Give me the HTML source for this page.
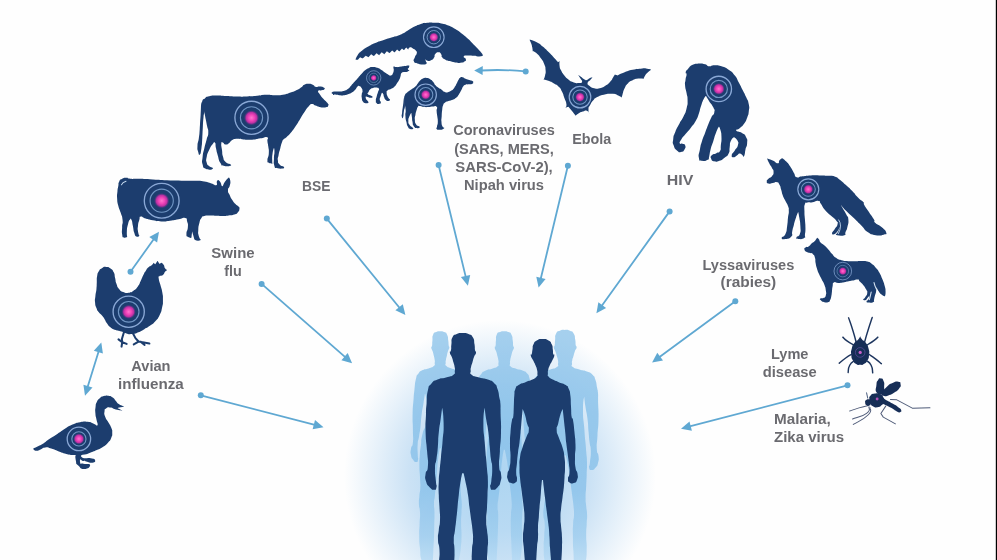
<!DOCTYPE html>
<html><head><meta charset="utf-8">
<style>
html,body{margin:0;padding:0;background:#fff;}
body{width:997px;height:560px;overflow:hidden;position:relative;}
svg{position:absolute;left:0;top:0;display:block;}
text{font-family:"Liberation Sans",sans-serif;font-weight:bold;font-size:14.5px;fill:#6b6b6f;}
</style></head><body>
<svg width="997" height="560" viewBox="0 0 997 560">
<defs>
<radialGradient id="glow" cx="500" cy="476" r="156" gradientUnits="userSpaceOnUse">
<stop offset="0" stop-color="#aed5f1"/>
<stop offset="0.35" stop-color="#b9daf3"/>
<stop offset="0.58" stop-color="#cbe2f5"/>
<stop offset="0.8" stop-color="#e6f1fa"/>
<stop offset="1" stop-color="#fefefe"/>
</radialGradient>
<filter id="soft" x="-5%" y="-5%" width="110%" height="110%"><feGaussianBlur stdDeviation="0.45"/></filter>
<radialGradient id="pk"><stop offset="0" stop-color="#ff74d0"/><stop offset="0.4" stop-color="#f043b8"/><stop offset="0.7" stop-color="#c431a6" stop-opacity="0.95"/><stop offset="1" stop-color="#5b2a86" stop-opacity="0"/></radialGradient><filter id="soft2" x="-5%" y="-5%" width="110%" height="110%"><feGaussianBlur stdDeviation="0.55"/></filter>
</defs>
<rect width="997" height="560" fill="#fefefe"/>
<circle cx="500" cy="476" r="156" fill="url(#glow)"/>
<rect x="995.8" y="0" width="1.2" height="560" fill="#000"/>
<g id="arrows" stroke="#5fa8d2" stroke-width="1.8" fill="#5fa8d2" stroke-linecap="round">
<line x1="87.3" y1="388.1" x2="99.0" y2="350.2"/>
<polygon stroke="none" points="101.3,342.5 102.9,353.5 93.8,350.7"/>
<polygon stroke="none" points="85.0,395.8 83.4,384.8 92.5,387.6"/>
<line x1="130.5" y1="271.8" x2="154.4" y2="238.2"/>
<polygon stroke="none" points="159.0,231.7 157.1,242.6 149.3,237.1"/>
<circle stroke="none" cx="130.5" cy="271.8" r="3.0"/>
<line x1="200.8" y1="395.3" x2="315.8" y2="425.2"/>
<polygon stroke="none" points="323.5,427.2 312.6,429.3 315.0,420.1"/>
<circle stroke="none" cx="200.8" cy="395.3" r="3.0"/>
<line x1="261.6" y1="283.9" x2="346.1" y2="357.9"/>
<polygon stroke="none" points="352.1,363.2 341.4,360.2 347.7,353.0"/>
<circle stroke="none" cx="261.6" cy="283.9" r="3.0"/>
<line x1="326.8" y1="218.6" x2="400.3" y2="308.8"/>
<polygon stroke="none" points="405.4,315.0 395.4,310.3 402.8,304.2"/>
<circle stroke="none" cx="326.8" cy="218.6" r="3.0"/>
<line x1="438.6" y1="165.0" x2="466.0" y2="277.9"/>
<polygon stroke="none" points="467.9,285.7 460.9,277.1 470.2,274.9"/>
<circle stroke="none" cx="438.6" cy="165.0" r="3.0"/>
<line x1="567.9" y1="165.7" x2="540.5" y2="279.7"/>
<polygon stroke="none" points="538.6,287.5 536.3,276.7 545.6,278.9"/>
<circle stroke="none" cx="567.9" cy="165.7" r="3.0"/>
<line x1="669.6" y1="211.4" x2="601.1" y2="306.7"/>
<polygon stroke="none" points="596.4,313.2 598.4,302.3 606.1,307.9"/>
<circle stroke="none" cx="669.6" cy="211.4" r="3.0"/>
<line x1="735.3" y1="301.2" x2="658.5" y2="357.8"/>
<polygon stroke="none" points="652.1,362.5 657.3,352.7 663.0,360.4"/>
<circle stroke="none" cx="735.3" cy="301.2" r="3.0"/>
<line x1="847.5" y1="385.3" x2="688.7" y2="426.7"/>
<polygon stroke="none" points="681.0,428.7 689.5,421.6 691.9,430.8"/>
<circle stroke="none" cx="847.5" cy="385.3" r="3.0"/>
<path d="M525.7,71.4 Q503.4,69.2 481.0,70.5" fill="none"/>
<polygon stroke="none" points="474.2,70.4 482.8,66.1 482.6,75.1"/>
<circle stroke="none" cx="525.7" cy="71.4" r="3.0"/>
</g>
<g id="people">
<defs><linearGradient id="bk" x1="0" y1="330" x2="0" y2="565" gradientUnits="userSpaceOnUse"><stop offset="0" stop-color="#96c8ec"/><stop offset="0.35" stop-color="#8ac2ea"/><stop offset="0.68" stop-color="#8cc3eb"/><stop offset="0.88" stop-color="#a0ceef"/><stop offset="1" stop-color="#badcf5"/></linearGradient></defs>
<g filter="url(#soft2)" opacity="0.84">
<path d="M440.0,331.3C442.7,331.3 441.8,330.9 444.2,332.1C446.5,333.2 445.8,331.9 447.1,334.8C448.5,337.7 447.8,337.1 448.3,340.7C448.8,344.2 448.3,343.0 448.7,345.4C449.0,347.8 449.6,345.8 449.3,347.7C449.1,349.7 448.8,348.6 448.0,351.3C447.1,354.0 447.5,353.1 446.9,355.8C446.2,358.5 446.4,357.1 446.0,359.4C445.6,361.8 445.5,360.7 445.7,362.9C445.8,365.1 444.4,364.2 446.4,366.0C448.3,367.8 447.8,367.0 451.6,368.4C455.3,369.7 454.0,368.5 457.5,370.1C460.9,371.7 459.6,370.5 461.9,373.1C464.2,375.8 463.1,374.1 464.5,378.1C465.9,382.2 465.2,381.4 466.1,385.3C466.9,389.3 466.5,385.6 467.0,390.0C467.5,394.5 467.0,390.6 467.5,398.6C468.1,406.7 468.2,403.9 468.5,414.3C468.9,424.7 468.5,420.6 468.5,430.0C468.5,439.3 468.0,436.2 468.6,442.5C469.1,448.7 469.6,444.6 470.2,448.7C470.7,452.9 470.8,451.4 470.2,455.0C469.6,458.7 470.1,457.4 468.5,459.7C466.9,462.1 467.1,462.1 465.3,462.1C463.6,462.1 463.8,462.1 463.3,459.7C462.8,457.4 463.5,460.2 463.7,455.0C463.9,449.8 464.2,450.3 463.9,444.0C463.5,437.8 463.4,442.0 462.6,436.2C461.7,430.5 462.3,434.1 461.4,426.8C460.5,419.5 461.1,422.1 459.9,414.3C458.7,406.5 459.0,410.2 457.8,403.3C456.6,396.5 456.3,393.6 456.3,393.6C456.3,393.6 455.6,397.0 456.0,406.5C456.5,416.0 456.6,412.7 457.6,422.1C458.7,431.5 458.2,426.8 459.1,434.7C460.1,442.5 459.7,438.8 460.4,445.6C461.2,452.4 461.0,448.0 461.4,455.0C461.7,462.0 461.6,459.2 461.5,466.5C461.4,473.8 461.4,470.0 461.1,476.9C460.8,483.9 460.6,481.1 460.6,487.4C460.6,493.6 460.7,490.1 461.1,495.7C461.5,501.3 461.7,498.5 461.8,504.1C461.9,509.6 461.7,506.0 461.5,512.4C461.2,518.8 461.1,515.5 461.1,523.3C461.2,531.1 461.7,527.4 461.5,535.8C461.4,544.1 461.6,540.0 460.8,548.3C460.0,556.7 459.8,553.9 459.1,560.8C458.3,567.8 458.0,564.2 458.6,569.2C459.3,574.2 463.3,572.8 461.1,575.9C459.0,578.9 456.6,578.1 452.1,578.4C447.6,578.7 447.6,576.7 447.6,576.7C447.6,576.7 448.0,573.9 448.0,565.9C447.9,557.8 447.8,562.0 447.4,552.5C447.0,543.0 447.1,546.6 446.8,537.5C446.5,528.3 446.5,533.3 446.4,524.9C446.4,516.6 446.3,519.4 446.6,512.4C446.9,505.5 447.2,509.6 447.3,504.1C447.4,498.5 447.3,501.3 446.9,495.7C446.5,490.1 446.8,493.6 446.1,487.4C445.4,481.1 445.6,483.9 444.9,476.9C444.1,470.0 444.6,472.7 443.8,466.5C443.1,460.2 443.6,464.2 442.6,458.1C441.6,452.1 440.8,448.3 440.8,448.3C440.8,448.3 439.8,448.3 439.8,448.3C439.8,448.3 439.1,452.1 438.3,458.1C437.5,464.2 438.0,460.2 437.4,466.5C436.9,472.7 437.2,470.0 436.6,476.9C436.0,483.9 436.3,481.1 435.7,487.4C435.1,493.6 435.4,490.1 434.9,495.7C434.3,501.3 434.1,498.5 434.0,504.1C433.9,509.6 434.4,505.5 434.5,512.4C434.6,519.4 434.5,516.6 434.3,524.9C434.1,533.3 434.3,528.3 434.0,537.5C433.6,546.6 433.7,543.0 433.3,552.5C432.9,562.0 432.9,557.8 432.8,565.9C432.7,573.9 433.1,576.7 433.1,576.7C433.1,576.7 433.1,578.7 428.6,578.4C424.1,578.1 420.4,578.9 419.6,575.9C418.8,572.8 425.6,574.2 426.3,569.2C427.0,564.2 423.8,567.8 421.7,560.8C419.6,553.9 420.8,556.7 420.0,548.3C419.1,540.0 419.3,544.1 419.2,535.8C419.1,527.4 419.4,531.1 419.6,523.3C419.9,515.5 420.2,518.8 420.0,512.4C419.7,506.0 419.1,509.6 418.9,504.1C418.8,498.5 419.0,501.3 419.4,495.7C419.9,490.1 420.1,493.6 420.3,487.4C420.5,481.1 420.2,483.9 420.0,476.9C419.7,470.0 419.5,473.8 419.4,466.5C419.4,459.2 419.3,462.0 419.8,455.0C420.3,448.0 420.0,452.4 420.9,445.6C421.7,438.8 420.5,442.5 422.3,434.7C424.1,426.8 424.7,431.5 426.2,422.1C427.8,412.7 427.4,416.0 427.0,406.5C426.6,397.0 425.0,393.6 425.0,393.6C425.0,393.6 424.6,396.5 423.5,403.3C422.4,410.2 422.7,406.5 421.7,414.3C420.7,422.1 421.3,419.5 420.5,426.8C419.6,434.1 420.0,430.5 419.1,436.2C418.2,442.0 418.1,437.8 417.7,444.0C417.3,450.3 417.7,449.8 417.8,455.0C417.9,460.2 418.6,457.4 418.0,459.7C417.5,462.1 417.9,462.1 416.2,462.1C414.6,462.1 414.8,462.1 413.1,459.7C411.3,457.4 411.7,458.7 411.0,455.0C410.3,451.4 410.4,452.9 411.0,448.7C411.6,444.6 412.2,448.7 412.9,442.5C413.5,436.2 413.0,439.3 412.9,430.0C412.9,420.6 412.4,424.7 412.6,414.3C412.9,403.9 413.0,406.7 413.6,398.6C414.2,390.6 413.7,396.6 414.4,390.0C415.2,383.5 414.6,384.5 415.9,379.1C417.2,373.6 416.0,376.7 418.3,373.7C420.6,370.7 419.3,371.9 422.8,370.1C426.2,368.3 425.0,369.7 428.6,368.4C432.3,367.0 431.8,367.8 433.8,366.0C435.8,364.2 434.5,365.1 434.7,362.9C435.0,360.7 434.9,361.8 434.6,359.4C434.3,357.1 434.5,358.5 433.8,355.8C433.2,353.1 433.5,354.0 432.6,351.3C431.8,348.6 431.5,349.7 431.3,347.7C431.1,345.8 431.7,347.8 432.1,345.4C432.4,343.0 432.0,344.2 432.4,340.7C432.7,337.1 431.9,337.7 433.1,334.8C434.4,331.9 433.8,333.2 436.1,332.1C438.4,330.9 437.3,331.3 440.0,331.3Z" fill="url(#bk)"/>
<path d="M504.0,331.3C506.9,331.3 505.9,330.9 508.4,332.1C510.9,333.2 510.1,331.9 511.5,334.8C513.0,337.8 512.2,337.2 512.8,340.8C513.3,344.3 512.8,343.2 513.1,345.6C513.5,348.0 514.1,345.9 513.9,347.9C513.6,349.9 513.3,348.8 512.4,351.6C511.5,354.3 512.0,353.4 511.2,356.1C510.5,358.9 510.7,357.4 510.3,359.8C509.9,362.2 509.9,361.1 510.0,363.3C510.1,365.6 508.7,364.6 510.7,366.5C512.8,368.3 512.3,367.4 516.2,368.8C520.1,370.2 518.8,369.0 522.5,370.6C526.1,372.2 524.8,370.9 527.2,373.6C529.5,376.3 528.4,374.6 529.6,378.7C530.9,382.8 530.3,382.0 531.0,386.0C531.6,390.0 531.4,386.2 531.7,390.7C532.0,395.2 531.7,391.3 531.8,399.4C532.0,407.6 532.3,404.7 532.1,415.3C531.9,425.9 531.8,421.6 531.3,431.1C530.8,440.6 530.5,437.5 530.8,443.8C531.0,450.1 531.8,445.9 532.1,450.1C532.5,454.4 532.6,452.8 531.8,456.5C531.1,460.2 531.6,458.9 529.8,461.2C528.0,463.6 528.2,463.6 526.4,463.6C524.5,463.6 524.8,463.6 524.3,461.2C523.9,458.9 524.5,461.8 525.0,456.5C525.5,451.2 525.8,451.7 525.7,445.4C525.6,439.1 525.3,443.3 524.7,437.5C524.1,431.7 524.5,435.4 523.9,428.0C523.3,420.6 523.8,423.2 523.0,415.3C522.1,407.4 522.2,411.2 521.3,404.2C520.4,397.2 520.2,394.4 520.2,394.4C520.2,394.4 519.3,397.8 519.3,407.4C519.3,417.0 519.6,413.7 520.2,423.2C520.9,432.7 520.6,428.0 521.2,435.9C521.8,443.8 521.5,440.1 522.0,447.0C522.5,453.8 522.5,449.4 522.5,456.5C522.6,463.5 522.5,460.7 522.3,468.1C522.1,475.5 522.2,471.6 521.9,478.7C521.6,485.7 521.4,482.9 521.4,489.2C521.4,495.6 521.5,492.0 521.9,497.7C522.3,503.3 522.5,500.5 522.6,506.1C522.8,511.8 522.5,508.1 522.3,514.6C522.0,521.1 521.9,517.7 521.9,525.6C521.9,533.5 522.5,529.8 522.3,538.2C522.2,546.7 522.4,542.5 521.5,550.9C520.7,559.4 520.5,556.5 519.7,563.6C519.0,570.6 518.5,567.0 519.3,572.0C520.0,577.1 522.7,575.7 521.9,578.8C521.1,581.9 520.1,581.1 516.8,581.3C513.5,581.6 512.0,579.6 512.0,579.6C512.0,579.6 512.5,576.8 512.4,568.7C512.3,560.5 512.2,564.7 511.8,555.1C511.4,545.6 511.5,549.2 511.2,539.9C510.8,530.6 510.9,535.7 510.8,527.3C510.7,518.8 510.7,521.6 511.0,514.6C511.2,507.5 511.6,511.8 511.7,506.1C511.8,500.5 511.7,503.3 511.3,497.7C510.9,492.0 511.1,495.6 510.4,489.2C509.7,482.9 509.9,485.7 509.1,478.7C508.3,471.6 508.8,474.4 508.0,468.1C507.2,461.8 507.8,465.8 506.8,459.7C505.7,453.5 504.8,449.7 504.8,449.7C504.8,449.7 503.8,449.7 503.8,449.7C503.8,449.7 503.0,453.5 502.2,459.7C501.4,465.8 501.9,461.8 501.3,468.1C500.7,474.4 501.0,471.6 500.4,478.7C499.8,485.7 500.1,482.9 499.5,489.2C498.8,495.6 499.2,492.0 498.5,497.7C497.9,503.3 497.8,500.5 497.6,506.1C497.5,511.8 498.1,507.5 498.2,514.6C498.3,521.6 498.2,518.8 498.0,527.3C497.8,535.7 497.9,530.6 497.6,539.9C497.3,549.2 497.4,545.6 496.9,555.1C496.5,564.7 496.4,560.5 496.4,568.7C496.3,576.8 496.7,579.6 496.7,579.6C496.7,579.6 495.3,581.6 492.0,581.3C488.7,581.1 487.7,581.9 486.9,578.8C486.0,575.7 488.8,577.1 489.5,572.0C490.2,567.0 489.8,570.6 489.1,563.6C488.3,556.5 488.1,559.4 487.2,550.9C486.4,542.5 486.5,546.7 486.4,538.2C486.3,529.8 486.6,533.5 486.9,525.6C487.1,517.7 487.5,521.1 487.2,514.6C487.0,508.1 486.3,511.8 486.1,506.1C485.9,500.5 486.2,503.3 486.7,497.7C487.2,492.0 487.4,495.6 487.6,489.2C487.8,482.9 487.5,485.7 487.2,478.7C486.9,471.6 486.9,475.5 486.7,468.1C486.5,460.7 486.5,463.5 486.7,456.5C486.9,449.4 486.8,453.8 487.4,447.0C487.9,440.1 487.6,443.8 488.3,435.9C489.0,428.0 488.8,432.7 489.4,423.2C490.1,413.7 490.3,417.0 490.2,407.4C490.1,397.8 489.1,394.4 489.1,394.4C489.1,394.4 488.9,397.2 488.0,404.2C487.2,411.2 487.4,407.4 486.7,415.3C486.0,423.2 486.5,420.6 486.0,428.0C485.4,435.4 485.7,431.7 485.0,437.5C484.4,443.3 484.1,439.1 483.9,445.4C483.8,451.7 484.3,451.2 484.6,456.5C485.0,461.8 485.5,458.9 485.0,461.2C484.6,463.6 485.0,463.6 483.3,463.6C481.5,463.6 481.8,463.6 479.8,461.2C477.9,458.9 478.3,460.2 477.4,456.5C476.5,452.8 476.6,454.4 477.1,450.1C477.6,445.9 478.4,450.1 478.7,443.8C479.1,437.5 478.7,440.6 478.2,431.1C477.6,421.6 477.4,425.9 477.1,415.3C476.8,404.7 477.1,407.6 477.4,399.4C477.6,391.3 477.3,397.3 477.8,390.7C478.2,384.1 477.7,385.1 478.8,379.6C479.9,374.1 478.8,377.2 481.1,374.2C483.4,371.2 482.1,372.4 485.8,370.6C489.4,368.8 488.1,370.2 492.0,368.8C495.9,367.4 495.3,368.3 497.4,366.5C499.6,364.6 498.1,365.6 498.4,363.3C498.7,361.1 498.6,362.2 498.3,359.8C497.9,357.4 498.1,358.9 497.4,356.1C496.8,353.4 497.1,354.3 496.2,351.6C495.3,348.8 495.0,349.9 494.8,347.9C494.6,345.9 495.3,348.0 495.6,345.6C496.0,343.2 495.5,344.3 495.9,340.8C496.3,337.2 495.4,337.8 496.7,334.8C498.0,331.9 497.4,333.2 499.9,332.1C502.3,330.9 501.2,331.3 504.0,331.3Z" fill="url(#bk)"/>
<path d="M564.8,329.9C568.2,329.9 567.0,329.5 570.0,330.7C573.0,332.0 572.0,330.6 573.8,333.7C575.5,336.7 574.6,336.1 575.3,339.9C575.9,343.7 575.3,342.5 575.7,345.0C576.2,347.6 576.9,345.4 576.6,347.5C576.3,349.6 575.9,348.5 574.8,351.4C573.8,354.3 574.3,353.3 573.4,356.2C572.6,359.1 572.8,357.5 572.3,360.1C571.8,362.6 571.8,361.5 572.0,363.8C572.1,366.2 570.4,365.2 572.8,367.1C575.3,369.1 574.7,368.2 579.4,369.6C584.1,371.1 582.5,369.8 586.9,371.5C591.3,373.2 589.7,371.9 592.5,374.7C595.4,377.6 594.0,375.8 595.5,380.1C597.0,384.5 596.2,383.6 597.1,387.8C597.9,392.1 597.6,388.1 598.0,392.9C598.3,397.6 598.0,393.4 598.1,402.1C598.3,410.8 598.7,407.7 598.5,418.9C598.3,430.1 598.0,425.6 597.5,435.6C596.9,445.7 596.5,442.4 596.8,449.1C597.2,455.8 598.0,451.3 598.5,455.8C598.9,460.3 599.1,458.6 598.1,462.5C597.2,466.4 597.9,465.0 595.7,467.5C593.5,470.0 593.8,470.0 591.6,470.0C589.4,470.0 589.7,470.0 589.1,467.5C588.6,465.0 589.4,468.1 589.9,462.5C590.5,456.9 590.9,457.5 590.8,450.7C590.6,444.0 590.3,448.5 589.6,442.4C588.9,436.2 589.3,440.1 588.6,432.3C587.9,424.5 588.5,427.3 587.5,418.9C586.4,410.5 586.6,414.5 585.5,407.1C584.4,399.7 584.2,396.7 584.2,396.7C584.2,396.7 583.0,400.3 583.0,410.5C583.0,420.7 583.4,417.2 584.2,427.3C585.0,437.3 584.6,432.3 585.3,440.7C586.1,449.1 585.8,445.2 586.3,452.4C586.9,459.7 586.9,455.0 587.0,462.5C587.1,470.0 586.9,467.0 586.7,474.8C586.4,482.6 586.6,478.5 586.2,486.0C585.9,493.4 585.6,490.5 585.6,497.2C585.6,503.9 585.7,500.2 586.2,506.1C586.7,512.1 586.9,509.1 587.1,515.1C587.2,521.0 586.9,517.2 586.7,524.0C586.4,530.9 586.2,527.3 586.2,535.7C586.2,544.0 586.9,540.1 586.7,549.1C586.6,558.0 586.8,553.6 585.8,562.5C584.7,571.5 584.5,568.5 583.6,575.9C582.7,583.4 582.2,579.5 583.1,584.9C583.9,590.3 587.2,588.8 586.2,592.0C585.2,595.3 584.0,594.4 580.1,594.7C576.2,595.0 574.4,592.9 574.4,592.9C574.4,592.9 574.9,590.0 574.8,581.3C574.8,572.7 574.6,577.1 574.1,567.0C573.6,556.8 573.8,560.7 573.4,550.9C572.9,541.0 573.0,546.4 572.9,537.5C572.8,528.5 572.7,531.5 573.1,524.0C573.4,516.6 573.8,521.0 574.0,515.1C574.1,509.1 574.0,512.1 573.5,506.1C573.0,500.2 573.3,503.9 572.4,497.2C571.6,490.5 571.9,493.4 570.9,486.0C570.0,478.5 570.5,481.5 569.6,474.8C568.6,468.1 569.3,472.4 568.1,465.9C566.8,459.3 565.7,455.3 565.7,455.3C565.7,455.3 564.5,455.3 564.5,455.3C564.5,455.3 563.6,459.3 562.6,465.9C561.6,472.4 562.2,468.1 561.5,474.8C560.8,481.5 561.1,478.5 560.4,486.0C559.7,493.4 560.0,490.5 559.3,497.2C558.6,503.9 558.9,500.2 558.2,506.1C557.5,512.1 557.3,509.1 557.1,515.1C557.0,521.0 557.6,516.6 557.8,524.0C557.9,531.5 557.8,528.5 557.5,537.5C557.3,546.4 557.5,541.0 557.1,550.9C556.7,560.7 556.8,556.8 556.3,567.0C555.8,577.1 555.7,572.7 555.6,581.3C555.5,590.0 556.0,592.9 556.0,592.9C556.0,592.9 554.3,595.0 550.3,594.7C546.4,594.4 545.2,595.3 544.2,592.0C543.2,588.8 546.5,590.3 547.4,584.9C548.2,579.5 547.7,583.4 546.8,575.9C545.9,568.5 545.7,571.5 544.7,562.5C543.6,553.6 543.8,558.0 543.7,549.1C543.5,540.1 543.9,544.0 544.2,535.7C544.5,527.3 544.9,530.9 544.7,524.0C544.4,517.2 543.6,521.0 543.3,515.1C543.1,509.1 543.4,512.1 544.0,506.1C544.6,500.2 544.9,503.9 545.1,497.2C545.3,490.5 545.0,493.4 544.7,486.0C544.3,478.5 544.2,482.6 544.0,474.8C543.8,467.0 543.7,470.0 544.0,462.5C544.3,455.0 544.2,459.7 544.8,452.4C545.5,445.2 545.1,449.1 546.0,440.7C546.8,432.3 546.5,437.3 547.3,427.3C548.0,417.2 548.4,420.7 548.3,410.5C548.2,400.3 547.0,396.7 547.0,396.7C547.0,396.7 546.6,399.7 545.6,407.1C544.7,414.5 544.8,410.5 544.0,418.9C543.2,427.3 543.8,424.5 543.2,432.3C542.5,440.1 542.9,436.2 542.0,442.4C541.2,448.5 540.9,444.0 540.7,450.7C540.6,457.5 541.1,456.9 541.5,462.5C542.0,468.1 542.6,465.0 542.0,467.5C541.5,470.0 542.0,470.0 539.9,470.0C537.8,470.0 538.1,470.0 535.8,467.5C533.4,465.0 533.9,466.4 532.8,462.5C531.8,458.6 532.0,460.3 532.5,455.8C533.1,451.3 534.0,455.8 534.5,449.1C534.9,442.4 534.5,445.7 533.8,435.6C533.2,425.6 532.8,430.1 532.5,418.9C532.2,407.7 532.6,410.8 532.8,402.1C533.1,393.4 532.8,399.8 533.3,392.9C533.9,385.9 533.2,386.9 534.5,381.1C535.8,375.3 534.5,378.6 537.3,375.4C540.1,372.2 538.6,373.4 542.9,371.5C547.3,369.6 545.7,371.1 550.3,369.6C555.0,368.2 554.3,369.1 556.9,367.1C559.5,365.2 557.7,366.2 558.0,363.8C558.4,361.5 558.2,362.6 557.9,360.1C557.5,357.5 557.7,359.1 556.9,356.2C556.1,353.3 556.5,354.3 555.4,351.4C554.4,348.5 554.0,349.6 553.8,347.5C553.5,345.4 554.3,347.6 554.7,345.0C555.2,342.5 554.6,343.7 555.1,339.9C555.5,336.1 554.5,336.7 556.0,333.7C557.6,330.6 556.9,332.0 559.8,330.7C562.7,329.5 561.4,329.9 564.8,329.9Z" fill="url(#bk)"/>
</g>
<g fill="#1b3d6e" filter="url(#soft)"><path d="M462.5,333.1C466.4,333.1 465.1,332.6 468.5,334.0C471.9,335.4 470.8,333.9 472.8,337.3C474.8,340.7 473.8,340.1 474.5,344.3C475.2,348.5 474.5,347.2 475.0,350.0C475.5,352.8 476.3,350.4 476.0,352.8C475.7,355.2 475.2,353.9 474.0,357.1C472.8,360.3 473.4,359.3 472.4,362.5C471.4,365.7 471.7,364.0 471.1,366.8C470.5,369.6 470.5,368.4 470.7,371.0C470.9,373.6 468.9,372.5 471.7,374.7C474.5,376.9 473.8,375.9 479.2,377.5C484.6,379.1 482.8,377.7 487.8,379.6C492.8,381.5 490.9,380.0 494.2,383.2C497.5,386.4 495.9,384.3 497.6,389.2C499.3,394.1 498.5,393.1 499.4,397.8C500.3,402.5 500.0,398.1 500.4,403.4C500.8,408.8 500.4,404.1 500.6,413.8C500.8,423.4 501.3,420.0 501.0,432.5C500.8,445.0 500.5,440.0 499.9,451.3C499.3,462.5 498.8,458.8 499.1,466.3C499.5,473.8 500.5,468.8 501.0,473.8C501.5,478.8 501.7,476.9 500.6,481.3C499.6,485.6 500.3,484.1 497.8,486.9C495.3,489.7 495.6,489.7 493.1,489.7C490.6,489.7 490.9,489.7 490.3,486.9C489.7,484.1 490.6,487.5 491.3,481.3C491.9,475.0 492.3,475.6 492.2,468.1C492.1,460.6 491.7,465.6 490.9,458.8C490.1,451.9 490.6,456.3 489.8,447.5C488.9,438.8 489.6,441.9 488.4,432.5C487.3,423.1 487.4,427.6 486.2,419.4C484.9,411.1 484.7,407.8 484.7,407.8C484.7,407.8 483.4,411.8 483.4,423.1C483.4,434.5 483.8,430.6 484.7,441.9C485.6,453.1 485.2,447.5 486.0,456.9C486.8,466.3 486.5,461.9 487.1,470.0C487.8,478.1 487.8,472.9 487.9,481.3C488.0,489.6 487.8,486.3 487.5,495.0C487.2,503.7 487.4,499.2 487.0,507.5C486.6,515.8 486.2,512.5 486.2,520.0C486.2,527.5 486.4,523.3 487.0,530.0C487.6,536.7 487.8,533.3 488.0,540.0C488.2,546.7 487.8,542.3 487.5,550.0C487.2,557.7 487.0,553.7 487.0,563.0C487.0,572.3 487.8,568.0 487.6,578.0C487.4,588.0 487.7,583.0 486.5,593.0C485.3,603.0 485.0,599.7 484.0,608.0C483.0,616.3 482.4,612.0 483.4,618.0C484.4,624.0 488.1,622.3 487.0,626.0C485.9,629.7 484.5,628.7 480.0,629.0C475.5,629.3 473.5,627.0 473.5,627.0C473.5,627.0 474.1,623.7 474.0,614.0C473.9,604.3 473.8,609.3 473.2,598.0C472.6,586.7 472.8,591.0 472.3,580.0C471.8,569.0 471.9,575.0 471.8,565.0C471.7,555.0 471.6,558.3 472.0,550.0C472.4,541.7 472.8,546.7 473.0,540.0C473.2,533.3 473.1,536.7 472.5,530.0C471.9,523.3 472.2,527.5 471.2,520.0C470.2,512.5 470.6,515.8 469.5,507.5C468.4,499.2 469.1,502.5 468.0,495.0C466.9,487.5 467.7,492.3 466.2,485.0C464.8,477.7 463.6,473.2 463.6,473.2C463.6,473.2 462.2,473.2 462.2,473.2C462.2,473.2 461.1,477.7 460.0,485.0C458.9,492.3 459.6,487.5 458.8,495.0C457.9,502.5 458.3,499.2 457.5,507.5C456.7,515.8 457.1,512.5 456.2,520.0C455.4,527.5 455.8,523.3 455.0,530.0C454.2,536.7 453.9,533.3 453.8,540.0C453.6,546.7 454.4,541.7 454.5,550.0C454.6,558.3 454.5,555.0 454.2,565.0C453.9,575.0 454.2,569.0 453.7,580.0C453.2,591.0 453.4,586.7 452.8,598.0C452.2,609.3 452.1,604.3 452.0,614.0C451.9,623.7 452.5,627.0 452.5,627.0C452.5,627.0 450.5,629.3 446.0,629.0C441.5,628.7 440.1,629.7 439.0,626.0C437.9,622.3 441.6,624.0 442.6,618.0C443.6,612.0 443.0,616.3 442.0,608.0C441.0,599.7 440.7,603.0 439.5,593.0C438.3,583.0 438.6,588.0 438.4,578.0C438.2,568.0 438.6,572.3 439.0,563.0C439.4,553.7 439.8,557.7 439.5,550.0C439.2,542.3 438.2,546.7 438.0,540.0C437.8,533.3 438.1,536.7 438.8,530.0C439.4,523.3 439.8,527.5 440.0,520.0C440.2,512.5 439.9,515.8 439.5,507.5C439.1,499.2 439.0,503.7 438.8,495.0C438.5,486.3 438.4,489.6 438.8,481.3C439.1,472.9 438.9,478.1 439.7,470.0C440.4,461.9 440.1,466.3 441.0,456.9C441.9,447.5 441.6,453.1 442.5,441.9C443.4,430.6 443.8,434.5 443.6,423.1C443.5,411.8 442.1,407.8 442.1,407.8C442.1,407.8 441.8,411.1 440.6,419.4C439.5,427.6 439.7,423.1 438.8,432.5C437.8,441.9 438.6,438.8 437.8,447.5C437.1,456.3 437.4,451.9 436.5,458.8C435.6,465.6 435.2,460.6 435.0,468.1C434.8,475.6 435.4,475.0 435.9,481.3C436.4,487.5 437.1,484.1 436.5,486.9C435.9,489.7 436.4,489.7 434.1,489.7C431.7,489.7 432.1,489.7 429.4,486.9C426.7,484.1 427.3,485.6 426.0,481.3C424.8,476.9 425.0,478.8 425.6,473.8C426.3,468.8 427.4,473.8 427.9,466.3C428.4,458.8 427.9,462.5 427.1,451.3C426.4,440.0 426.0,445.0 425.6,432.5C425.3,420.0 425.7,423.4 426.0,413.8C426.3,404.1 425.9,411.3 426.6,403.4C427.2,395.6 426.4,396.8 427.9,390.3C429.4,383.8 427.9,387.5 431.1,383.9C434.3,380.3 432.5,381.7 437.5,379.6C442.5,377.5 440.7,379.1 446.0,377.5C451.3,375.9 450.6,376.9 453.5,374.7C456.4,372.5 454.4,373.6 454.8,371.0C455.2,368.4 455.0,369.6 454.6,366.8C454.2,364.0 454.4,365.7 453.5,362.5C452.6,359.3 453.0,360.3 451.8,357.1C450.6,353.9 450.2,355.2 449.9,352.8C449.6,350.4 450.5,352.8 451.0,350.0C451.5,347.2 450.9,348.5 451.4,344.3C451.9,340.1 450.7,340.7 452.5,337.3C454.3,333.9 453.5,335.4 456.8,334.0C460.1,332.6 458.6,333.1 462.5,333.1Z"/><path d="M542.5,338.9C546.5,338.9 545.5,338.6 548.5,340.4C551.6,342.2 550.3,341.2 551.7,344.3C553.2,347.3 552.3,346.4 552.8,349.6C553.3,352.8 552.7,352.0 553.2,353.9C553.7,355.8 554.6,353.3 554.3,355.4C554.0,357.5 554.0,356.9 552.4,360.3C550.8,363.8 551.0,362.6 549.6,365.7C548.2,368.8 548.9,367.0 548.3,369.5C547.7,372.1 547.8,371.0 547.9,373.4C548.0,375.7 546.9,374.5 548.5,376.6C550.2,378.7 549.2,377.7 552.8,379.6C556.4,381.5 555.0,380.6 559.2,382.4C563.5,384.2 562.5,382.7 565.7,385.0C568.9,387.2 567.3,385.7 568.9,389.2C570.4,392.8 569.7,390.0 570.4,395.7C571.1,401.4 570.6,399.2 571.0,406.4C571.4,413.5 571.0,412.5 571.7,417.1C572.3,421.6 572.1,414.9 573.0,420.0C573.9,425.1 573.7,424.2 574.5,432.5C575.3,440.8 575.3,436.7 575.5,445.0C575.7,453.3 575.0,450.0 575.0,457.5C575.0,465.0 574.7,462.1 575.5,467.5C576.3,472.9 577.0,469.6 577.5,473.8C578.0,477.9 578.2,476.9 577.0,480.0C575.8,483.1 576.2,482.2 573.8,483.0C571.2,483.8 571.4,483.9 569.5,482.5C567.6,481.1 568.0,482.1 568.0,478.8C568.0,475.4 569.2,477.9 569.5,472.5C569.8,467.1 569.4,469.2 568.8,462.5C568.1,455.8 568.3,459.2 567.5,452.5C566.7,445.8 567.1,450.0 566.2,442.5C565.4,435.0 566.2,441.2 565.0,430.0C563.8,418.8 562.7,408.9 562.7,408.9C562.7,408.9 561.8,410.1 560.3,414.9C558.8,419.8 559.4,418.5 558.2,423.5C557.0,428.5 556.5,425.3 556.7,429.9C556.9,434.6 556.8,431.6 558.8,437.5C560.7,443.4 560.6,440.8 562.5,447.5C564.4,454.2 563.7,450.8 564.5,457.5C565.3,464.2 565.0,460.8 565.0,467.5C565.0,474.2 564.9,470.8 564.5,477.5C564.1,484.2 564.4,480.8 563.8,487.5C563.1,494.2 563.3,490.8 562.5,497.5C561.7,504.2 561.9,500.8 561.2,507.5C560.6,514.2 560.5,510.8 560.5,517.5C560.5,524.2 560.8,520.8 561.2,527.5C561.8,534.2 561.8,530.8 562.0,537.5C562.2,544.2 562.2,539.3 562.0,547.5C561.8,555.7 561.2,562.0 561.2,562.0C561.2,562.0 551.2,562.0 551.2,562.0C551.2,562.0 550.6,555.7 550.0,547.5C549.4,539.3 549.9,544.2 549.5,537.5C549.1,530.8 549.4,534.2 548.8,527.5C548.1,520.8 548.3,524.2 547.5,517.5C546.7,510.8 547.1,514.2 546.2,507.5C545.4,500.8 545.8,504.2 545.0,497.5C544.2,490.8 544.4,493.3 543.8,487.5C543.1,481.7 543.0,480.0 543.0,480.0C543.0,480.0 542.0,480.0 542.0,480.0C542.0,480.0 541.8,481.7 541.2,487.5C540.8,493.3 541.1,490.8 540.5,497.5C539.9,504.2 540.1,500.8 539.5,507.5C538.9,514.2 539.2,510.8 538.8,517.5C538.2,524.2 538.2,520.8 538.0,527.5C537.8,534.2 538.3,530.8 538.0,537.5C537.7,544.2 537.6,539.3 537.0,547.5C536.4,555.7 536.2,562.0 536.2,562.0C536.2,562.0 525.0,562.0 525.0,562.0C525.0,562.0 524.4,555.7 523.8,547.5C523.1,539.3 523.0,544.2 523.0,537.5C523.0,530.8 523.2,534.2 523.8,527.5C524.2,520.8 524.5,524.2 524.5,517.5C524.5,510.8 524.4,514.2 523.8,507.5C523.1,500.8 523.3,504.2 522.5,497.5C521.7,490.8 522.1,494.2 521.2,487.5C520.4,480.8 520.6,484.2 520.0,477.5C519.4,470.8 519.5,474.2 519.5,467.5C519.5,460.8 519.0,464.2 520.0,457.5C521.0,450.8 520.4,454.2 522.5,447.5C524.6,440.8 524.1,443.4 526.2,437.5C528.4,431.6 528.5,434.6 528.8,429.9C529.1,425.3 528.4,428.5 527.1,423.5C525.8,418.5 526.5,419.8 525.0,414.9C523.5,410.1 522.6,408.9 522.6,408.9C522.6,408.9 522.0,417.1 521.2,425.0C520.5,432.9 521.1,426.7 520.5,432.5C519.9,438.3 520.3,435.8 519.5,442.5C518.7,449.2 518.8,445.8 518.0,452.5C517.2,459.2 517.6,455.8 517.0,462.5C516.4,469.2 516.2,467.1 516.2,472.5C516.2,477.9 517.2,475.4 517.0,478.8C516.8,482.1 517.4,481.1 515.5,482.5C513.6,483.9 513.8,483.8 511.2,483.0C508.8,482.2 509.2,483.1 508.0,480.0C506.8,476.9 507.0,477.9 507.5,473.8C508.0,469.6 508.5,472.9 509.5,467.5C510.5,462.1 510.3,465.0 510.5,457.5C510.7,450.0 510.0,453.3 510.0,445.0C510.0,436.7 509.8,440.8 510.5,432.5C511.2,424.2 511.1,425.1 512.0,420.0C512.9,414.9 512.6,421.6 513.2,417.1C513.8,412.5 513.5,413.5 513.8,406.4C514.2,399.2 513.8,401.4 514.3,395.7C514.8,390.0 513.9,392.8 515.3,389.2C516.8,385.7 515.3,387.2 518.6,385.0C521.8,382.7 520.3,384.2 525.0,382.4C529.6,380.6 528.5,381.5 532.5,379.6C536.4,377.7 535.1,378.7 536.8,376.6C538.4,374.5 537.3,375.7 537.4,373.4C537.5,371.0 537.5,372.1 537.0,369.5C536.4,367.0 537.0,368.8 535.7,365.7C534.4,362.6 534.8,363.8 533.1,360.3C531.5,356.9 531.2,357.5 530.8,355.4C530.3,353.3 531.3,355.8 531.8,353.9C532.4,352.0 531.9,352.8 532.5,349.6C533.0,346.4 532.1,347.3 533.5,344.3C535.0,341.2 533.8,342.2 536.8,340.4C539.8,338.6 538.6,338.9 542.5,338.9Z"/></g>
</g>
<g id="animals" fill="#1b3d6e" filter="url(#soft)">
<g transform="translate(30,390) scale(0.15175)">
<path d="M22.0,385.0C22.0,385.0 29.0,382.0 50.0,372.0C71.0,362.0 58.3,371.7 85.0,355.0C111.7,338.3 98.3,343.7 130.0,322.0C161.7,300.3 146.7,312.0 180.0,290.0C213.3,268.0 196.7,276.7 230.0,256.0C263.3,235.3 246.7,242.7 280.0,228.0C313.3,213.3 296.7,218.0 330.0,212.0C363.3,206.0 350.0,206.7 380.0,210.0C410.0,213.3 398.7,214.7 420.0,222.0C441.3,229.3 438.0,241.0 444.0,232.0C450.0,223.0 442.3,220.7 438.0,195.0C433.7,169.3 433.0,182.7 431.0,155.0C429.0,127.3 428.7,137.7 432.0,112.0C435.3,86.3 431.7,97.3 441.0,78.0C450.3,58.7 444.7,66.7 460.0,54.0C475.3,41.3 468.0,45.3 487.0,40.0C506.0,34.7 497.7,34.7 517.0,38.0C536.3,41.3 528.7,38.7 545.0,50.0C561.3,61.3 552.7,58.0 566.0,72.0C579.3,86.0 566.3,80.0 585.0,92.0C603.7,104.0 622.0,108.0 622.0,108.0C622.0,108.0 613.3,110.3 598.0,114.0C582.7,117.7 576.0,119.0 576.0,119.0C576.0,119.0 608.0,136.0 608.0,136.0C608.0,136.0 591.0,134.7 565.0,128.0C539.0,121.3 550.7,118.7 530.0,116.0C509.3,113.3 516.0,111.3 503.0,120.0C490.0,128.7 493.3,122.7 491.0,142.0C488.7,161.3 487.7,154.7 496.0,178.0C504.3,201.3 503.0,189.0 516.0,212.0C529.0,235.0 526.3,223.7 535.0,247.0C543.7,270.3 542.0,259.0 542.0,282.0C542.0,305.0 544.0,294.7 535.0,316.0C526.0,337.3 533.3,326.0 515.0,346.0C496.7,366.0 505.0,359.3 480.0,376.0C455.0,392.7 466.7,384.0 440.0,396.0C413.3,408.0 426.7,402.3 400.0,412.0C373.3,421.7 393.3,419.3 360.0,425.0C326.7,430.7 340.0,430.3 300.0,429.0C260.0,427.7 276.7,429.0 240.0,421.0C203.3,413.0 223.3,416.7 190.0,405.0C156.7,393.3 170.0,394.7 140.0,386.0C110.0,377.3 123.3,377.0 100.0,379.0C76.7,381.0 88.3,385.0 70.0,392.0C51.7,399.0 60.0,399.7 45.0,400.0C30.0,400.3 32.7,398.0 25.0,393.0C17.3,388.0 22.0,385.0 22.0,385.0Z"/>
<path d="M306.0,420.0C295.0,436.7 299.0,444.0 303.0,470.0C307.0,496.0 299.7,481.0 318.0,498.0C336.3,515.0 332.0,522.3 358.0,521.0C384.0,519.7 398.0,505.7 396.0,494.0C394.0,482.3 374.0,492.0 352.0,486.0C330.0,480.0 335.3,498.0 330.0,476.0C324.7,454.0 344.0,438.7 336.0,420.0C328.0,401.3 317.0,403.3 306.0,420.0Z"/>
<path d="M338.0,420.0C343.3,422.0 325.3,436.0 346.0,446.0C366.7,456.0 372.7,444.7 400.0,450.0C427.3,455.3 424.0,452.3 428.0,462.0C432.0,471.7 431.3,476.0 412.0,479.0C392.7,482.0 394.7,476.7 370.0,471.0C345.3,465.3 351.3,472.3 338.0,462.0C324.7,451.7 330.0,454.0 330.0,440.0C330.0,426.0 332.7,418.0 338.0,420.0Z"/>
</g>
<circle cx="78.9" cy="438.9" r="11.7" fill="none" stroke="#90aedb" stroke-width="1.31" opacity="0.95"/><circle cx="78.9" cy="438.9" r="7.1" fill="none" stroke="#86abd9" stroke-width="1.12" opacity="0.8"/><circle cx="78.9" cy="438.9" r="5.6" fill="url(#pk)"/>

<g transform="translate(90,255) scale(0.16966)">
<path d="M70.0,78.0C55.7,86.7 61.3,80.3 52.0,96.0C42.7,111.7 46.0,103.7 42.0,125.0C38.0,146.3 41.3,135.0 40.0,160.0C38.7,185.0 40.7,173.3 38.0,200.0C35.3,226.7 34.7,213.3 32.0,240.0C29.3,266.7 28.0,256.0 30.0,280.0C32.0,304.0 30.7,292.7 38.0,312.0C45.3,331.3 40.7,322.7 52.0,338.0C63.3,353.3 60.7,344.7 72.0,358.0C83.3,371.3 76.7,363.3 86.0,378.0C95.3,392.7 88.0,385.7 100.0,402.0C112.0,418.3 104.7,413.7 122.0,427.0C139.3,440.3 131.0,434.0 152.0,442.0C173.0,450.0 164.0,444.3 185.0,451.0C206.0,457.7 193.3,457.0 215.0,462.0C236.7,467.0 226.7,468.0 250.0,466.0C273.3,464.0 261.7,465.7 285.0,456.0C308.3,446.3 296.7,450.3 320.0,437.0C343.3,423.7 333.3,431.7 355.0,416.0C376.7,400.3 366.7,410.3 385.0,390.0C403.3,369.7 396.7,381.7 410.0,355.0C423.3,328.3 418.3,340.0 425.0,310.0C431.7,280.0 429.7,295.0 430.0,265.0C430.3,235.0 430.7,248.3 426.0,220.0C421.3,191.7 423.0,207.3 416.0,180.0C409.0,152.7 407.3,156.3 405.0,138.0C402.7,119.7 402.7,130.7 409.0,125.0C415.3,119.3 415.0,126.0 424.0,121.0C433.0,116.0 430.0,117.7 436.0,110.0C442.0,102.3 435.3,105.3 442.0,98.0C448.7,90.7 456.0,88.0 456.0,88.0C456.0,88.0 449.0,87.7 442.0,78.0C435.0,68.3 441.7,70.0 435.0,59.0C428.3,48.0 422.0,45.0 422.0,45.0C422.0,45.0 409.0,52.0 409.0,52.0C409.0,52.0 398.0,34.0 398.0,34.0C398.0,34.0 385.0,55.0 385.0,55.0C385.0,55.0 374.0,45.0 374.0,45.0C374.0,45.0 375.3,49.3 365.0,59.0C354.7,68.7 354.7,63.0 343.0,74.0C331.3,85.0 339.0,78.3 330.0,92.0C321.0,105.7 326.0,95.7 316.0,115.0C306.0,134.3 311.3,126.7 300.0,150.0C288.7,173.3 296.7,165.0 282.0,185.0C267.3,205.0 274.7,197.7 256.0,210.0C237.3,222.3 246.0,219.3 226.0,222.0C206.0,224.7 214.3,225.3 196.0,218.0C177.7,210.7 184.3,216.0 171.0,200.0C157.7,184.0 163.7,191.7 156.0,170.0C148.3,148.3 153.3,157.7 148.0,135.0C142.7,112.3 149.0,120.7 140.0,102.0C131.0,83.3 136.0,89.7 121.0,79.0C106.0,68.3 112.0,70.3 95.0,70.0C78.0,69.7 84.3,69.3 70.0,78.0Z"/>
<g fill="none" stroke="#1b3d6e" stroke-width="12" stroke-linecap="round" stroke-linejoin="round"><path d="M200,455 L188,495 L190,514 M190,514 L168,497 M190,514 L216,524 M190,514 L186,540"/><path d="M252,460 L268,490 L286,510 L350,522 M286,510 L258,527 M300,512 L322,530"/></g>
</g>
<circle cx="128.7" cy="311.8" r="15.6" fill="none" stroke="#90aedb" stroke-width="1.35" opacity="0.95"/><circle cx="128.7" cy="311.8" r="10.3" fill="none" stroke="#86abd9" stroke-width="1.15" opacity="0.8"/><circle cx="128.7" cy="311.8" r="7.2" fill="url(#pk)"/>

<g transform="translate(110,170) scale(0.14286)">
<path d="M58.0,112.0C62.0,89.3 55.0,98.7 64.0,82.0C73.0,65.3 68.0,71.0 85.0,62.0C102.0,53.0 96.0,55.0 115.0,55.0C134.0,55.0 113.7,59.7 142.0,62.0C170.3,64.3 147.3,60.7 200.0,62.0C252.7,63.3 233.3,62.7 300.0,66.0C366.7,69.3 333.3,69.0 400.0,72.0C466.7,75.0 433.3,73.7 500.0,75.0C566.7,76.3 546.7,74.0 600.0,76.0C653.3,78.0 623.3,74.7 660.0,81.0C696.7,87.3 682.0,86.7 710.0,95.0C738.0,103.3 731.3,111.0 744.0,106.0C756.7,101.0 743.3,92.0 748.0,80.0C752.7,68.0 758.0,70.0 758.0,70.0C758.0,70.0 763.7,71.7 773.0,86.0C782.3,100.3 777.0,111.7 786.0,113.0C795.0,114.3 788.7,106.7 800.0,90.0C811.3,73.3 809.0,75.7 820.0,63.0C831.0,50.3 833.0,52.0 833.0,52.0C833.0,52.0 840.3,56.7 842.0,76.0C843.7,95.3 843.3,88.7 838.0,110.0C832.7,131.3 826.7,119.3 826.0,140.0C825.3,160.7 826.0,148.7 836.0,172.0C846.0,195.3 841.3,187.3 856.0,210.0C870.7,232.7 865.0,224.3 880.0,240.0C895.0,255.7 892.3,246.3 901.0,257.0C909.7,267.7 907.7,259.3 906.0,272.0C904.3,284.7 908.0,281.7 896.0,295.0C884.0,308.3 892.0,304.3 870.0,312.0C848.0,319.7 856.7,314.7 830.0,318.0C803.3,321.3 816.7,321.3 790.0,322.0C763.3,322.7 780.0,321.3 750.0,320.0C720.0,318.7 730.0,317.3 700.0,318.0C670.0,318.7 680.0,316.0 660.0,322.0C640.0,328.0 651.3,320.0 640.0,336.0C628.7,352.0 633.3,342.0 626.0,370.0C618.7,398.0 619.7,390.0 618.0,420.0C616.3,450.0 615.0,437.3 621.0,460.0C627.0,482.7 636.0,488.0 636.0,488.0C636.0,488.0 630.3,496.0 615.0,495.0C599.7,494.0 590.0,485.0 590.0,485.0C590.0,485.0 586.0,470.3 581.0,452.0C576.0,433.7 575.0,430.0 575.0,430.0C575.0,430.0 570.0,475.0 570.0,475.0C570.0,475.0 556.7,478.0 545.0,468.0C533.3,458.0 535.0,467.7 535.0,445.0C535.0,422.3 543.3,428.3 545.0,400.0C546.7,371.7 546.3,381.3 540.0,360.0C533.7,338.7 546.0,341.0 526.0,336.0C506.0,331.0 515.3,338.7 480.0,345.0C444.7,351.3 460.0,350.0 420.0,355.0C380.0,360.0 400.0,361.0 360.0,360.0C320.0,359.0 336.7,358.7 300.0,352.0C263.3,345.3 278.0,348.7 250.0,340.0C222.0,331.3 231.0,322.7 216.0,326.0C201.0,329.3 211.7,328.7 205.0,350.0C198.3,371.3 199.0,363.3 196.0,390.0C193.0,416.7 192.7,406.7 196.0,430.0C199.3,453.3 206.0,460.0 206.0,460.0C206.0,460.0 197.0,472.7 185.0,466.0C173.0,459.3 178.3,465.3 170.0,440.0C161.7,414.7 166.3,420.0 160.0,390.0C153.7,360.0 157.7,364.7 151.0,350.0C144.3,335.3 148.3,336.0 140.0,346.0C131.7,356.0 133.3,352.0 126.0,380.0C118.7,408.0 119.7,400.7 118.0,430.0C116.3,459.3 121.0,468.0 121.0,468.0C121.0,468.0 108.0,479.0 96.0,473.0C84.0,467.0 88.7,474.3 85.0,450.0C81.3,425.7 84.0,433.3 85.0,400.0C86.0,366.7 91.3,383.3 88.0,350.0C84.7,316.7 85.0,333.3 75.0,300.0C65.0,266.7 66.3,283.3 58.0,250.0C49.7,216.7 52.0,233.3 50.0,200.0C48.0,166.7 49.3,179.3 52.0,150.0C54.7,120.7 54.0,134.7 58.0,112.0Z"/>
<path d="M80,104 Q88,84 112,78" fill="none" stroke="#c9dcf0" stroke-width="7" stroke-linecap="round"/>
</g>
<circle cx="161.7" cy="200.7" r="17.4" fill="none" stroke="#90aedb" stroke-width="1.35" opacity="0.95"/><circle cx="161.7" cy="200.7" r="11.6" fill="none" stroke="#86abd9" stroke-width="1.15" opacity="0.8"/><circle cx="161.7" cy="200.7" r="7.8" fill="url(#pk)"/>

<g transform="translate(192,78) scale(0.17144)">
<path d="M60.0,142.0C61.7,118.3 61.7,130.7 75.0,119.0C88.3,107.3 78.3,112.7 100.0,107.0C121.7,101.3 106.7,102.7 140.0,102.0C173.3,101.3 160.0,103.0 200.0,105.0C240.0,107.0 220.0,107.0 260.0,108.0C300.0,109.0 280.0,109.3 320.0,108.0C360.0,106.7 343.3,107.3 380.0,104.0C416.7,100.7 396.7,99.3 430.0,98.0C463.3,96.7 446.7,100.0 480.0,100.0C513.3,100.0 498.3,103.0 530.0,98.0C561.7,93.0 546.7,95.0 575.0,85.0C603.3,75.0 593.3,79.0 615.0,68.0C636.7,57.0 626.7,61.7 640.0,52.0C653.3,42.3 641.7,45.3 655.0,39.0C668.3,32.7 663.3,32.7 680.0,33.0C696.7,33.3 691.0,33.7 705.0,40.0C719.0,46.3 708.7,49.0 722.0,52.0C735.3,55.0 729.7,48.0 745.0,49.0C760.3,50.0 759.0,49.3 768.0,55.0C777.0,60.7 776.3,60.3 772.0,66.0C767.7,71.7 767.0,68.7 755.0,72.0C743.0,75.3 739.0,68.0 736.0,76.0C733.0,84.0 736.0,81.0 746.0,96.0C756.0,111.0 751.7,104.7 766.0,121.0C780.3,137.3 779.3,132.0 789.0,145.0C798.7,158.0 797.7,151.7 795.0,160.0C792.3,168.3 796.0,166.7 781.0,170.0C766.0,173.3 770.3,173.3 750.0,170.0C729.7,166.7 736.7,166.0 720.0,160.0C703.3,154.0 713.3,150.0 700.0,152.0C686.7,154.0 695.0,150.0 680.0,166.0C665.0,182.0 671.7,175.3 655.0,200.0C638.3,224.7 646.7,213.3 630.0,240.0C613.3,266.7 623.0,253.3 605.0,280.0C587.0,306.7 594.0,298.3 576.0,320.0C558.0,341.7 564.3,333.0 551.0,345.0C537.7,357.0 544.3,347.0 536.0,356.0C527.7,365.0 533.0,354.0 526.0,372.0C519.0,390.0 522.0,384.0 515.0,410.0C508.0,436.0 509.7,426.7 505.0,450.0C500.3,473.3 499.0,461.7 501.0,480.0C503.0,498.3 499.3,492.0 511.0,505.0C522.7,518.0 529.7,511.3 536.0,519.0C542.3,526.7 530.0,528.0 530.0,528.0C530.0,528.0 511.7,531.0 495.0,525.0C478.3,519.0 485.7,528.3 480.0,510.0C474.3,491.7 477.7,496.7 478.0,470.0C478.3,443.3 481.0,450.7 481.0,430.0C481.0,409.3 478.0,408.0 478.0,408.0C478.0,408.0 473.3,416.0 470.0,440.0C466.7,464.0 468.0,460.0 468.0,480.0C468.0,500.0 470.0,500.0 470.0,500.0C470.0,500.0 458.0,501.7 448.0,495.0C438.0,488.3 440.0,498.3 440.0,480.0C440.0,461.7 446.3,466.7 448.0,440.0C449.7,413.3 447.7,423.3 445.0,400.0C442.3,376.7 442.3,388.0 440.0,370.0C437.7,352.0 451.3,352.0 438.0,346.0C424.7,340.0 429.3,347.3 400.0,352.0C370.7,356.7 383.3,358.0 350.0,360.0C316.7,362.0 330.0,359.7 300.0,358.0C270.0,356.3 281.7,354.0 260.0,355.0C238.3,356.0 250.0,352.7 235.0,361.0C220.0,369.3 228.3,371.0 215.0,380.0C201.7,389.0 206.7,389.3 195.0,388.0C183.3,386.7 188.0,378.0 180.0,376.0C172.0,374.0 172.7,367.3 171.0,382.0C169.3,396.7 171.7,394.0 175.0,420.0C178.3,446.0 174.0,436.7 181.0,460.0C188.0,483.3 181.0,475.0 196.0,490.0C211.0,505.0 218.0,497.3 226.0,505.0C234.0,512.7 220.0,513.0 220.0,513.0C220.0,513.0 203.3,518.0 185.0,512.0C166.7,506.0 176.7,515.7 165.0,495.0C153.3,474.3 158.3,478.3 150.0,450.0C141.7,421.7 145.3,434.0 140.0,410.0C134.7,386.0 140.7,386.0 134.0,378.0C127.3,370.0 131.3,372.0 120.0,386.0C108.7,400.0 111.3,395.3 100.0,420.0C88.7,444.7 90.7,435.0 86.0,460.0C81.3,485.0 81.0,476.7 86.0,495.0C91.0,513.3 89.3,505.0 101.0,515.0C112.7,525.0 116.3,519.0 121.0,525.0C125.7,531.0 115.0,533.0 115.0,533.0C115.0,533.0 97.7,539.3 80.0,530.0C62.3,520.7 68.0,528.3 62.0,505.0C56.0,481.7 58.7,491.7 62.0,460.0C65.3,428.3 64.3,443.3 72.0,410.0C79.7,376.7 77.3,390.0 85.0,360.0C92.7,330.0 94.0,346.7 95.0,320.0C96.0,293.3 93.0,306.7 88.0,280.0C83.0,253.3 86.0,270.0 80.0,240.0C74.0,210.0 76.7,222.7 70.0,190.0C63.3,157.3 58.3,165.7 60.0,142.0Z"/>
<path d="M58.0,140.0C50.0,153.3 54.3,166.7 50.0,220.0C45.7,273.3 48.3,256.7 45.0,300.0C41.7,343.3 44.3,318.3 40.0,350.0C35.7,381.7 33.3,368.3 32.0,395.0C30.7,421.7 31.3,413.0 36.0,430.0C40.7,447.0 39.7,452.7 46.0,446.0C52.3,439.3 50.3,442.0 55.0,410.0C59.7,378.0 57.3,390.0 60.0,350.0C62.7,310.0 60.7,330.0 63.0,290.0C65.3,250.0 63.3,266.7 67.0,230.0C70.7,193.3 77.0,210.0 74.0,180.0C71.0,150.0 66.0,126.7 58.0,140.0Z"/>
</g>
<circle cx="251.5" cy="117.8" r="16.6" fill="none" stroke="#90aedb" stroke-width="1.35" opacity="0.95"/><circle cx="251.5" cy="117.8" r="11.1" fill="none" stroke="#86abd9" stroke-width="1.15" opacity="0.8"/><circle cx="251.5" cy="117.8" r="7.7" fill="url(#pk)"/>

<g transform="translate(350,15) scale(0.14043)">
<path d="M40.0,318.0C40.0,318.0 40.0,306.0 55.0,285.0C70.0,264.0 60.0,275.0 85.0,255.0C110.0,235.0 98.3,243.3 130.0,225.0C161.7,206.7 146.7,214.3 180.0,200.0C213.3,185.7 193.3,194.7 230.0,182.0C266.7,169.3 253.3,173.3 290.0,162.0C326.7,150.7 310.0,158.7 340.0,148.0C370.0,137.3 353.3,144.3 380.0,130.0C406.7,115.7 393.3,121.0 420.0,105.0C446.7,89.0 433.3,95.3 460.0,82.0C486.7,68.7 470.0,74.0 500.0,65.0C530.0,56.0 516.7,58.3 550.0,55.0C583.3,51.7 566.7,53.3 600.0,55.0C633.3,56.7 616.7,53.3 650.0,60.0C683.3,66.7 666.7,61.7 700.0,75.0C733.3,88.3 716.7,80.0 750.0,100.0C783.3,120.0 770.0,111.7 800.0,135.0C830.0,158.3 813.3,145.0 840.0,170.0C866.7,195.0 855.0,185.0 880.0,210.0C905.0,235.0 895.0,223.3 915.0,245.0C935.0,266.7 930.0,259.7 940.0,275.0C950.0,290.3 945.0,291.0 945.0,291.0C945.0,291.0 941.7,296.0 920.0,296.0C898.3,296.0 906.7,293.3 880.0,291.0C853.3,288.7 863.3,287.3 840.0,289.0C816.7,290.7 815.0,287.3 810.0,296.0C805.0,304.7 823.3,303.0 825.0,315.0C826.7,327.0 826.7,323.7 815.0,332.0C803.3,340.3 811.7,338.0 790.0,340.0C768.3,342.0 776.7,342.0 750.0,338.0C723.3,334.0 733.3,334.7 710.0,328.0C686.7,321.3 698.0,327.3 680.0,318.0C662.0,308.7 666.0,312.3 656.0,300.0C646.0,287.7 658.7,292.3 650.0,281.0C641.3,269.7 644.7,266.3 630.0,266.0C615.3,265.7 616.0,268.7 606.0,280.0C596.0,291.3 608.7,286.7 600.0,300.0C591.3,313.3 596.0,311.7 580.0,320.0C564.0,328.3 566.7,327.7 552.0,325.0C537.3,322.3 536.0,312.0 536.0,312.0C536.0,312.0 537.0,318.7 540.0,330.0C543.0,341.3 551.7,338.7 545.0,346.0C538.3,353.3 541.7,352.3 520.0,352.0C498.3,351.7 501.7,352.3 480.0,345.0C458.3,337.7 461.0,345.0 455.0,330.0C449.0,315.0 455.3,318.3 462.0,300.0C468.7,281.7 472.3,290.0 475.0,275.0C477.7,260.0 478.3,266.7 470.0,255.0C461.7,243.3 464.0,248.3 450.0,240.0C436.0,231.7 439.7,228.0 428.0,230.0C416.3,232.0 415.0,246.0 415.0,246.0C415.0,246.0 400.0,232.0 400.0,232.0C400.0,232.0 385.0,251.0 385.0,251.0C385.0,251.0 370.0,238.0 370.0,238.0C370.0,238.0 352.0,259.0 352.0,259.0C352.0,259.0 335.0,245.0 335.0,245.0C335.0,245.0 318.0,266.0 318.0,266.0C318.0,266.0 300.0,252.0 300.0,252.0C300.0,252.0 282.0,271.0 282.0,271.0C282.0,271.0 262.0,258.0 262.0,258.0C262.0,258.0 245.0,279.0 245.0,279.0C245.0,279.0 225.0,265.0 225.0,265.0C225.0,265.0 208.0,286.0 208.0,286.0C208.0,286.0 188.0,272.0 188.0,272.0C188.0,272.0 170.0,293.0 170.0,293.0C170.0,293.0 150.0,280.0 150.0,280.0C150.0,280.0 132.0,301.0 132.0,301.0C132.0,301.0 112.0,290.0 112.0,290.0C112.0,290.0 92.0,309.0 92.0,309.0C92.0,309.0 72.0,300.0 72.0,300.0C72.0,300.0 56.0,319.0 56.0,319.0C56.0,319.0 40.0,318.0 40.0,318.0Z"/>
</g>
<circle cx="433.8" cy="37.2" r="10.3" fill="none" stroke="#90aedb" stroke-width="1.15" opacity="0.95"/><circle cx="433.8" cy="37.2" r="6.7" fill="none" stroke="#86abd9" stroke-width="0.98" opacity="0.8"/><circle cx="433.8" cy="37.2" r="4.8" fill="url(#pk)"/>

<g transform="translate(328,60) scale(0.08626)">
<path d="M45.0,378.0C51.7,370.0 45.0,370.3 70.0,366.0C95.0,361.7 83.3,367.7 120.0,365.0C156.7,362.3 143.3,368.0 180.0,358.0C216.7,348.0 200.0,356.0 230.0,335.0C260.0,314.0 243.3,323.3 270.0,295.0C296.7,266.7 283.3,280.0 310.0,250.0C336.7,220.0 323.3,235.0 350.0,205.0C376.7,175.0 363.3,188.3 390.0,160.0C416.7,131.7 403.3,141.7 430.0,120.0C456.7,98.3 440.0,107.7 470.0,95.0C500.0,82.3 486.7,83.7 520.0,82.0C553.3,80.3 536.7,79.0 570.0,90.0C603.3,101.0 590.0,96.7 620.0,115.0C650.0,133.3 633.3,126.7 660.0,145.0C686.7,163.3 676.7,158.3 700.0,170.0C723.3,181.7 713.3,183.3 730.0,180.0C746.7,176.7 739.3,180.0 750.0,160.0C760.7,140.0 759.3,144.0 762.0,120.0C764.7,96.0 757.0,104.0 758.0,88.0C759.0,72.0 765.0,72.0 765.0,72.0C765.0,72.0 768.3,80.0 790.0,82.0C811.7,84.0 803.3,81.3 830.0,78.0C856.7,74.7 843.3,75.3 870.0,72.0C896.7,68.7 886.7,71.3 910.0,68.0C933.3,64.7 940.0,62.0 940.0,62.0C940.0,62.0 945.0,70.7 940.0,85.0C935.0,99.3 923.3,93.3 925.0,105.0C926.7,116.7 945.0,120.0 945.0,120.0C945.0,120.0 941.7,128.3 920.0,135.0C898.3,141.7 902.7,135.0 880.0,140.0C857.3,145.0 865.3,133.3 852.0,150.0C838.7,166.7 849.0,163.3 840.0,190.0C831.0,216.7 838.3,203.3 825.0,230.0C811.7,256.7 818.3,243.3 800.0,270.0C781.7,296.7 793.3,288.3 770.0,310.0C746.7,331.7 756.0,321.7 730.0,335.0C704.0,348.3 708.7,335.0 692.0,350.0C675.3,365.0 680.7,356.7 680.0,380.0C679.3,403.3 681.7,398.3 690.0,420.0C698.3,441.7 695.3,431.0 705.0,445.0C714.7,459.0 720.7,452.0 719.0,462.0C717.3,472.0 716.3,474.0 700.0,475.0C683.7,476.0 686.7,480.0 670.0,465.0C653.3,450.0 660.0,453.3 650.0,430.0C640.0,406.7 648.3,411.7 640.0,395.0C631.7,378.3 625.0,380.0 625.0,380.0C625.0,380.0 618.3,393.3 610.0,420.0C601.7,446.7 599.0,436.7 600.0,460.0C601.0,483.3 614.7,474.0 613.0,490.0C611.3,506.0 611.0,504.7 595.0,508.0C579.0,511.3 578.3,512.7 565.0,500.0C551.7,487.3 555.0,496.7 555.0,470.0C555.0,443.3 556.7,453.3 565.0,420.0C573.3,386.7 571.7,399.3 580.0,370.0C588.3,340.7 596.7,348.7 590.0,332.0C583.3,315.3 583.3,322.3 560.0,320.0C536.7,317.7 543.3,318.3 520.0,325.0C496.7,331.7 506.7,325.0 490.0,340.0C473.3,355.0 479.7,351.7 470.0,370.0C460.3,388.3 451.0,380.0 461.0,395.0C471.0,410.0 481.7,404.0 500.0,415.0C518.3,426.0 517.7,420.3 516.0,428.0C514.3,435.7 513.7,437.3 495.0,438.0C476.3,438.7 478.3,436.0 460.0,430.0C441.7,424.0 440.0,420.0 440.0,420.0C440.0,420.0 431.7,430.0 440.0,450.0C448.3,470.0 456.3,465.0 465.0,480.0C473.7,495.0 476.0,488.3 466.0,495.0C456.0,501.7 455.3,505.0 435.0,500.0C414.7,495.0 419.3,500.0 405.0,480.0C390.7,460.0 396.3,468.3 392.0,440.0C387.7,411.7 389.3,421.7 392.0,395.0C394.7,368.3 402.3,385.0 400.0,360.0C397.7,335.0 398.3,340.0 385.0,320.0C371.7,300.0 375.0,303.3 360.0,300.0C345.0,296.7 355.0,295.0 340.0,310.0C325.0,325.0 335.0,323.3 315.0,345.0C295.0,366.7 305.0,358.3 280.0,375.0C255.0,391.7 270.0,384.0 240.0,395.0C210.0,406.0 226.7,403.7 190.0,408.0C153.3,412.3 166.7,410.7 130.0,408.0C93.3,405.3 106.7,406.0 80.0,400.0C53.3,394.0 61.7,397.3 50.0,390.0C38.3,382.7 38.3,386.0 45.0,378.0Z"/>
</g>
<circle cx="373.7" cy="77.9" r="7.2" fill="none" stroke="#90aedb" stroke-width="0.90" opacity="0.7"/><circle cx="373.7" cy="77.9" r="4.7" fill="none" stroke="#86abd9" stroke-width="0.80" opacity="0.55"/><circle cx="373.7" cy="77.9" r="3.2" fill="url(#pk)"/>

<g transform="translate(396,70) scale(0.11781)">
<path d="M75.0,215.0C83.3,195.0 76.7,206.7 95.0,190.0C113.3,173.3 106.7,181.7 130.0,165.0C153.3,148.3 146.7,156.7 165.0,140.0C183.3,123.3 171.7,131.7 185.0,115.0C198.3,98.3 190.0,104.3 205.0,90.0C220.0,75.7 211.7,79.3 230.0,72.0C248.3,64.7 240.0,66.0 260.0,68.0C280.0,70.0 271.7,67.3 290.0,78.0C308.3,88.7 300.0,82.7 315.0,100.0C330.0,117.3 320.0,113.3 335.0,130.0C350.0,146.7 343.3,138.3 360.0,150.0C376.7,161.7 368.3,153.3 385.0,165.0C401.7,176.7 391.7,177.3 410.0,185.0C428.3,192.7 420.0,191.3 440.0,188.0C460.0,184.7 451.7,187.7 470.0,175.0C488.3,162.3 480.0,170.0 495.0,150.0C510.0,130.0 503.3,136.7 515.0,115.0C526.7,93.3 520.0,101.7 530.0,85.0C540.0,68.3 533.3,72.7 545.0,65.0C556.7,57.3 550.0,58.7 565.0,62.0C580.0,65.3 571.7,67.3 590.0,75.0C608.3,82.7 601.7,79.3 620.0,85.0C638.3,90.7 633.3,85.7 645.0,92.0C656.7,98.3 655.0,95.3 655.0,104.0C655.0,112.7 658.3,112.0 645.0,118.0C631.7,124.0 633.3,119.7 615.0,122.0C596.7,124.3 605.0,119.0 590.0,125.0C575.0,131.0 581.7,125.0 570.0,140.0C558.3,155.0 566.7,148.3 555.0,170.0C543.3,191.7 550.0,183.3 535.0,205.0C520.0,226.7 530.0,218.3 510.0,235.0C490.0,251.7 498.3,245.0 475.0,255.0C451.7,265.0 459.7,258.0 440.0,265.0C420.3,272.0 429.3,264.3 416.0,276.0C402.7,287.7 408.0,278.7 400.0,300.0C392.0,321.3 396.0,310.0 392.0,340.0C388.0,370.0 390.0,356.7 388.0,390.0C386.0,423.3 383.7,410.0 386.0,440.0C388.3,470.0 387.7,463.7 395.0,480.0C402.3,496.3 406.3,482.3 408.0,489.0C409.7,495.7 412.7,493.7 400.0,500.0C387.3,506.3 388.3,508.0 370.0,508.0C351.7,508.0 352.3,509.3 345.0,500.0C337.7,490.7 344.7,500.0 348.0,480.0C351.3,460.0 354.3,470.0 355.0,440.0C355.7,410.0 353.3,420.0 350.0,390.0C346.7,360.0 346.7,376.0 345.0,350.0C343.3,324.0 356.7,325.3 345.0,312.0C333.3,298.7 335.0,309.0 310.0,310.0C285.0,311.0 296.7,314.3 270.0,315.0C243.3,315.7 253.3,315.3 230.0,312.0C206.7,308.7 214.7,305.3 200.0,305.0C185.3,304.7 194.3,299.3 186.0,311.0C177.7,322.7 182.0,317.0 175.0,340.0C168.0,363.0 170.0,353.3 165.0,380.0C160.0,406.7 158.3,393.3 160.0,420.0C161.7,446.7 158.3,440.7 170.0,460.0C181.7,479.3 185.0,468.7 195.0,478.0C205.0,487.3 206.7,483.3 200.0,488.0C193.3,492.7 191.7,496.3 175.0,492.0C158.3,487.7 161.7,492.3 150.0,475.0C138.3,457.7 145.0,465.0 140.0,440.0C135.0,415.0 138.3,426.0 135.0,400.0C131.7,374.0 130.0,362.0 130.0,362.0C130.0,362.0 123.3,367.3 115.0,390.0C106.7,412.7 105.0,405.0 105.0,430.0C105.0,455.0 103.3,445.7 115.0,465.0C126.7,484.3 130.0,477.0 140.0,488.0C150.0,499.0 151.7,494.0 145.0,498.0C138.3,502.0 135.0,506.0 120.0,500.0C105.0,494.0 110.7,500.0 100.0,480.0C89.3,460.0 94.7,470.0 88.0,440.0C81.3,410.0 82.0,423.3 80.0,390.0C78.0,356.7 83.7,373.3 82.0,340.0C80.3,306.7 79.0,320.0 75.0,290.0C71.0,260.0 70.0,275.0 70.0,250.0C70.0,225.0 66.7,235.0 75.0,215.0Z"/>
<path d="M70.0,235.0C64.7,235.0 66.0,258.3 60.0,300.0C54.0,341.7 55.7,328.3 52.0,360.0C48.3,391.7 46.3,381.0 49.0,395.0C51.7,409.0 54.0,417.0 60.0,402.0C66.0,387.0 61.7,384.0 67.0,350.0C72.3,316.0 75.0,338.3 76.0,300.0C77.0,261.7 75.3,235.0 70.0,235.0Z"/>
</g>
<circle cx="425.7" cy="94.7" r="10.7" fill="none" stroke="#90aedb" stroke-width="1.21" opacity="0.95"/><circle cx="425.7" cy="94.7" r="7.1" fill="none" stroke="#86abd9" stroke-width="1.03" opacity="0.8"/><circle cx="425.7" cy="94.7" r="5.0" fill="url(#pk)"/>

<g transform="translate(525,32) scale(0.16069)">
<path d="M28.0,48.0C28.0,48.0 42.7,48.0 70.0,62.0C97.3,76.0 83.3,68.0 110.0,90.0C136.7,112.0 125.0,103.0 150.0,128.0C175.0,153.0 166.7,145.0 185.0,165.0C203.3,185.0 205.0,188.0 205.0,188.0C205.0,188.0 216.0,180.0 216.0,180.0C216.0,180.0 212.0,190.0 215.0,210.0C218.0,230.0 215.0,220.0 225.0,240.0C235.0,260.0 230.0,251.7 245.0,270.0C260.0,288.3 251.7,281.0 270.0,295.0C288.3,309.0 278.3,304.3 300.0,312.0C321.7,319.7 316.7,318.7 335.0,318.0C353.3,317.3 351.7,319.3 355.0,310.0C358.3,300.7 353.3,304.7 345.0,290.0C336.7,275.3 330.0,266.0 330.0,266.0C330.0,266.0 336.7,270.3 350.0,280.0C363.3,289.7 358.3,289.0 370.0,295.0C381.7,301.0 373.3,301.0 385.0,298.0C396.7,295.0 393.7,290.3 405.0,286.0C416.3,281.7 419.0,285.0 419.0,285.0C419.0,285.0 414.7,289.7 405.0,300.0C395.3,310.3 391.7,304.3 390.0,316.0C388.3,327.7 386.7,323.7 400.0,335.0C413.3,346.3 408.3,345.0 430.0,350.0C451.7,355.0 441.7,355.0 465.0,350.0C488.3,345.0 478.3,348.3 500.0,335.0C521.7,321.7 513.3,328.3 530.0,310.0C546.7,291.7 540.0,295.0 550.0,280.0C560.0,265.0 560.0,265.0 560.0,265.0C560.0,265.0 576.0,270.0 576.0,270.0C576.0,270.0 588.7,261.7 620.0,250.0C651.3,238.3 636.7,242.3 670.0,235.0C703.3,227.7 690.0,230.3 720.0,228.0C750.0,225.7 738.0,225.7 760.0,228.0C782.0,230.3 786.0,235.0 786.0,235.0C786.0,235.0 778.7,236.7 765.0,250.0C751.3,263.3 754.0,260.7 745.0,275.0C736.0,289.3 738.0,293.0 738.0,293.0C738.0,293.0 732.7,287.7 710.0,290.0C687.3,292.3 693.3,290.0 670.0,300.0C646.7,310.0 656.7,303.3 640.0,320.0C623.3,336.7 630.7,328.3 620.0,350.0C609.3,371.7 614.0,365.3 608.0,385.0C602.0,404.7 602.0,409.0 602.0,409.0C602.0,409.0 600.7,403.0 580.0,395.0C559.3,387.0 570.0,386.7 540.0,385.0C510.0,383.3 520.0,383.3 490.0,390.0C460.0,396.7 471.7,393.3 450.0,405.0C428.3,416.7 440.0,408.3 425.0,425.0C410.0,441.7 415.0,436.7 405.0,455.0C395.0,473.3 396.7,463.0 395.0,480.0C393.3,497.0 400.0,506.0 400.0,506.0C400.0,506.0 398.3,493.7 385.0,490.0C371.7,486.3 376.7,490.0 360.0,495.0C343.3,500.0 350.0,496.3 335.0,505.0C320.0,513.7 315.0,521.0 315.0,521.0C315.0,521.0 310.0,513.7 295.0,495.0C280.0,476.3 270.0,465.0 270.0,465.0C270.0,465.0 250.0,471.0 250.0,471.0C250.0,471.0 259.7,470.3 258.0,450.0C256.3,429.7 254.3,436.7 245.0,410.0C235.7,383.3 241.7,393.3 230.0,370.0C218.3,346.7 226.7,356.7 210.0,340.0C193.3,323.3 200.0,331.7 180.0,320.0C160.0,308.3 171.7,313.3 150.0,305.0C128.3,296.7 115.0,295.0 115.0,295.0C115.0,295.0 120.7,290.0 125.0,270.0C129.3,250.0 129.7,258.3 128.0,235.0C126.3,211.7 129.3,223.3 120.0,200.0C110.7,176.7 115.0,186.7 100.0,165.0C85.0,143.3 92.3,150.0 75.0,135.0C57.7,120.0 48.0,120.0 48.0,120.0C48.0,120.0 48.3,111.7 45.0,95.0C41.7,78.3 43.7,85.7 38.0,70.0C32.3,54.3 28.0,48.0 28.0,48.0Z"/>
</g>
<circle cx="580.0" cy="97.1" r="10.8" fill="none" stroke="#90aedb" stroke-width="1.21" opacity="0.95"/><circle cx="580.0" cy="97.1" r="7.2" fill="none" stroke="#86abd9" stroke-width="1.03" opacity="0.8"/><circle cx="580.0" cy="97.1" r="4.9" fill="url(#pk)"/>

<g transform="translate(665,55) scale(0.20534)">
<path d="M112.0,68.0C123.3,56.0 117.3,56.7 135.0,48.0C152.7,39.3 145.0,43.0 165.0,42.0C185.0,41.0 178.3,40.7 195.0,45.0C211.7,49.3 200.0,53.3 215.0,55.0C230.0,56.7 220.0,50.0 240.0,50.0C260.0,50.0 251.7,47.7 275.0,55.0C298.3,62.3 288.3,57.0 310.0,72.0C331.7,87.0 323.3,79.0 340.0,100.0C356.7,121.0 347.3,111.7 360.0,135.0C372.7,158.3 366.3,146.7 378.0,170.0C389.7,193.3 385.0,181.7 395.0,205.0C405.0,228.3 403.7,216.7 408.0,240.0C412.3,263.3 410.7,253.3 408.0,275.0C405.3,296.7 407.7,285.0 400.0,305.0C392.3,325.0 396.7,318.3 385.0,335.0C373.3,351.7 377.7,344.0 365.0,355.0C352.3,366.0 343.7,359.7 347.0,368.0C350.3,376.3 359.0,369.3 375.0,380.0C391.0,390.7 386.7,383.3 395.0,400.0C403.3,416.7 401.0,410.0 400.0,430.0C399.0,450.0 396.0,441.7 392.0,460.0C388.0,478.3 391.3,473.0 388.0,485.0C384.7,497.0 382.0,496.0 382.0,496.0C382.0,496.0 375.7,482.0 365.0,480.0C354.3,478.0 360.0,484.0 350.0,490.0C340.0,496.0 343.3,498.7 335.0,498.0C326.7,497.3 323.3,499.0 325.0,488.0C326.7,477.0 330.0,481.0 340.0,465.0C350.0,449.0 351.0,456.7 355.0,440.0C359.0,423.3 358.7,428.3 352.0,415.0C345.3,401.7 335.0,400.0 335.0,400.0C335.0,400.0 326.7,403.3 320.0,420.0C313.3,436.7 318.3,430.0 315.0,450.0C311.7,470.0 318.3,463.3 310.0,480.0C301.7,496.7 305.0,488.3 290.0,500.0C275.0,511.7 281.7,509.0 265.0,515.0C248.3,521.0 253.3,521.3 240.0,518.0C226.7,514.7 229.0,515.0 225.0,505.0C221.0,495.0 219.7,497.0 228.0,488.0C236.3,479.0 236.7,484.7 250.0,478.0C263.3,471.3 260.7,480.7 268.0,468.0C275.3,455.3 269.7,462.7 272.0,440.0C274.3,417.3 275.7,425.0 275.0,400.0C274.3,375.0 274.3,381.7 270.0,365.0C265.7,348.3 262.0,350.0 262.0,350.0C262.0,350.0 257.0,356.7 248.0,380.0C239.0,403.3 243.7,393.3 235.0,420.0C226.3,446.7 228.7,435.0 222.0,460.0C215.3,485.0 219.7,478.3 215.0,495.0C210.3,511.7 219.7,503.3 208.0,510.0C196.3,516.7 194.3,518.3 180.0,515.0C165.7,511.7 168.3,518.3 165.0,500.0C161.7,481.7 165.0,486.7 170.0,460.0C175.0,433.3 171.7,446.7 180.0,420.0C188.3,393.3 185.0,406.7 195.0,380.0C205.0,353.3 200.0,365.0 210.0,340.0C220.0,315.0 215.0,325.0 225.0,305.0C235.0,285.0 236.7,296.7 240.0,280.0C243.3,263.3 243.3,273.3 235.0,255.0C226.7,236.7 226.7,243.3 215.0,225.0C203.3,206.7 200.0,200.0 200.0,200.0C200.0,200.0 196.3,198.3 188.0,215.0C179.7,231.7 182.7,226.7 175.0,250.0C167.3,273.3 173.3,261.7 165.0,285.0C156.7,308.3 163.3,296.7 150.0,320.0C136.7,343.3 141.7,333.3 125.0,355.0C108.3,376.7 115.0,366.7 100.0,385.0C85.0,403.3 89.3,395.0 80.0,410.0C70.7,425.0 70.3,422.7 72.0,430.0C73.7,437.3 76.3,428.7 85.0,432.0C93.7,435.3 94.7,430.7 98.0,440.0C101.3,449.3 101.7,449.3 95.0,460.0C88.3,470.7 90.3,470.3 78.0,472.0C65.7,473.7 70.0,475.7 58.0,465.0C46.0,454.3 48.0,458.3 42.0,440.0C36.0,421.7 37.3,431.7 40.0,410.0C42.7,388.3 40.0,400.0 50.0,375.0C60.0,350.0 56.7,360.0 70.0,335.0C83.3,310.0 78.3,325.0 90.0,300.0C101.7,275.0 98.3,286.7 105.0,260.0C111.7,233.3 110.0,245.0 110.0,220.0C110.0,195.0 109.0,208.3 105.0,185.0C101.0,161.7 99.7,171.7 98.0,150.0C96.3,128.3 97.7,138.3 100.0,120.0C102.3,101.7 104.7,107.0 105.0,95.0C105.3,83.0 98.7,93.0 101.0,84.0C103.3,75.0 100.7,80.0 112.0,68.0Z"/>
</g>
<circle cx="718.8" cy="88.9" r="12.7" fill="none" stroke="#90aedb" stroke-width="1.35" opacity="0.95"/><circle cx="718.8" cy="88.9" r="8.6" fill="none" stroke="#86abd9" stroke-width="1.15" opacity="0.8"/><circle cx="718.8" cy="88.9" r="6.0" fill="url(#pk)"/>

<g transform="translate(760,150) scale(0.16961)">
<path d="M42.0,50.0C42.0,50.0 54.0,52.7 75.0,62.0C96.0,71.3 91.7,78.7 105.0,78.0C118.3,77.3 106.7,70.0 115.0,60.0C123.3,50.0 130.0,48.0 130.0,48.0C130.0,48.0 138.3,50.7 155.0,68.0C171.7,85.3 165.0,77.7 180.0,100.0C195.0,122.3 188.0,115.0 200.0,135.0C212.0,155.0 199.3,153.3 216.0,160.0C232.7,166.7 222.0,158.3 250.0,155.0C278.0,151.7 266.7,151.7 300.0,150.0C333.3,148.3 316.7,149.3 350.0,150.0C383.3,150.7 370.0,150.0 400.0,152.0C430.0,154.0 416.7,148.3 440.0,156.0C463.3,163.7 448.3,158.7 470.0,175.0C491.7,191.3 480.3,182.7 505.0,205.0C529.7,227.3 519.3,216.3 544.0,242.0C568.7,267.7 557.0,260.0 579.0,282.0C601.0,304.0 598.3,294.3 610.0,308.0C621.7,321.7 605.3,306.7 614.0,323.0C622.7,339.3 617.0,328.3 636.0,357.0C655.0,385.7 657.3,385.7 671.0,409.0C684.7,432.3 661.3,411.3 677.0,427.0C692.7,442.7 695.7,436.0 718.0,456.0C740.3,476.0 740.3,472.7 744.0,487.0C747.7,501.3 749.3,494.0 729.0,499.0C708.7,504.0 713.7,506.7 683.0,502.0C652.3,497.3 666.0,504.3 637.0,485.0C608.0,465.7 623.0,471.0 596.0,444.0C569.0,417.0 585.0,432.0 556.0,404.0C527.0,376.0 536.7,388.7 509.0,360.0C481.3,331.3 473.0,318.0 473.0,318.0C473.0,318.0 474.0,319.3 486.0,340.0C498.0,360.7 497.3,356.7 509.0,380.0C520.7,403.3 519.0,384.7 521.0,410.0C523.0,435.3 520.7,431.0 515.0,456.0C509.3,481.0 509.7,469.7 504.0,485.0C498.3,500.3 514.3,496.0 498.0,502.0C481.7,508.0 470.3,505.7 455.0,503.0C439.7,500.3 452.0,494.0 452.0,494.0C452.0,494.0 456.7,491.0 462.0,478.0C467.3,465.0 469.7,454.7 468.0,455.0C466.3,455.3 467.3,465.3 457.0,479.0C446.7,492.7 447.7,492.3 437.0,496.0C426.3,499.7 424.0,499.7 425.0,490.0C426.0,480.3 429.3,484.3 440.0,467.0C450.7,449.7 454.0,455.3 457.0,438.0C460.0,420.7 462.3,432.3 449.0,415.0C435.7,397.7 439.3,407.0 417.0,386.0C394.7,365.0 401.3,375.0 382.0,352.0C362.7,329.0 371.3,334.3 359.0,317.0C346.7,299.7 361.3,303.0 345.0,300.0C328.7,297.0 331.7,304.7 310.0,308.0C288.3,311.3 295.0,306.7 280.0,310.0C265.0,313.3 271.0,301.3 265.0,318.0C259.0,334.7 262.0,329.3 262.0,360.0C262.0,390.7 263.0,376.7 265.0,410.0C267.0,443.3 268.0,430.0 268.0,460.0C268.0,490.0 267.0,480.7 265.0,500.0C263.0,519.3 273.7,509.7 262.0,518.0C250.3,526.3 245.7,526.0 230.0,525.0C214.3,524.0 213.3,525.0 215.0,515.0C216.7,505.0 227.3,516.7 235.0,495.0C242.7,473.3 239.0,481.7 238.0,450.0C237.0,418.3 236.3,428.0 232.0,400.0C227.7,372.0 225.0,366.0 225.0,366.0C225.0,366.0 220.3,375.3 212.0,400.0C203.7,424.7 207.3,413.3 200.0,440.0C192.7,466.7 195.0,456.7 190.0,480.0C185.0,503.3 198.3,495.0 185.0,510.0C171.7,525.0 169.0,522.3 150.0,525.0C131.0,527.7 128.0,528.0 128.0,518.0C128.0,508.0 139.3,517.7 150.0,495.0C160.7,472.3 155.0,481.7 160.0,450.0C165.0,418.3 161.7,430.0 165.0,400.0C168.3,370.0 170.0,383.3 170.0,360.0C170.0,336.7 171.7,350.0 165.0,330.0C158.3,310.0 160.0,320.0 150.0,300.0C140.0,280.0 143.3,291.7 135.0,270.0C126.7,248.3 131.7,256.7 125.0,235.0C118.3,213.3 123.3,220.0 115.0,205.0C106.7,190.0 113.3,193.3 100.0,190.0C86.7,186.7 91.7,192.3 75.0,195.0C58.3,197.7 61.7,201.3 50.0,198.0C38.3,194.7 40.0,194.3 40.0,185.0C40.0,175.7 40.0,180.0 50.0,170.0C60.0,160.0 60.0,168.3 70.0,155.0C80.0,141.7 80.0,146.7 80.0,130.0C80.0,113.3 78.3,121.7 70.0,105.0C61.7,88.3 64.3,98.3 55.0,80.0C45.7,61.7 42.0,50.0 42.0,50.0Z"/>
<path d="M464,412 Q488,444 462,494" fill="none" stroke="#b9cfe8" stroke-width="5.5" stroke-linecap="round"/>
</g>
<circle cx="808.3" cy="189.3" r="10.5" fill="none" stroke="#90aedb" stroke-width="1.18" opacity="0.95"/><circle cx="808.3" cy="189.3" r="7.0" fill="none" stroke="#86abd9" stroke-width="1.01" opacity="0.8"/><circle cx="808.3" cy="189.3" r="5.0" fill="url(#pk)"/>

<g transform="translate(798,232) scale(0.13578)">
<path d="M140.0,42.0C140.0,42.0 146.7,44.0 155.0,55.0C163.3,66.0 151.7,60.0 165.0,75.0C178.3,90.0 175.0,81.7 195.0,100.0C215.0,118.3 206.7,110.0 225.0,130.0C243.3,150.0 231.7,140.0 250.0,160.0C268.3,180.0 256.7,174.0 280.0,190.0C303.3,206.0 290.0,199.7 320.0,208.0C350.0,216.3 336.7,212.7 370.0,215.0C403.3,217.3 386.7,215.7 420.0,215.0C453.3,214.3 440.0,212.0 470.0,213.0C500.0,214.0 485.0,210.7 510.0,218.0C535.0,225.3 523.3,219.3 545.0,235.0C566.7,250.7 556.7,243.3 575.0,265.0C593.3,286.7 585.0,273.3 600.0,300.0C615.0,326.7 607.3,313.3 620.0,345.0C632.7,376.7 629.7,363.3 638.0,395.0C646.3,426.7 644.3,414.0 645.0,440.0C645.7,466.0 640.0,473.0 640.0,473.0C640.0,473.0 631.7,474.3 615.0,460.0C598.3,445.7 602.3,446.7 590.0,430.0C577.7,413.3 583.0,406.7 578.0,410.0C573.0,413.3 579.3,418.3 575.0,440.0C570.7,461.7 570.0,455.0 565.0,475.0C560.0,495.0 563.3,486.7 560.0,500.0C556.7,513.3 568.3,508.3 555.0,515.0C541.7,521.7 536.7,521.7 520.0,520.0C503.3,518.3 505.0,518.3 505.0,510.0C505.0,501.7 513.3,507.7 520.0,495.0C526.7,482.3 525.0,472.0 525.0,472.0C525.0,472.0 518.3,478.7 510.0,488.0C501.7,497.3 510.0,496.7 500.0,500.0C490.0,503.3 481.7,504.7 480.0,498.0C478.3,491.3 485.0,496.0 495.0,480.0C505.0,464.0 508.3,470.0 510.0,450.0C511.7,430.0 510.0,440.0 500.0,420.0C490.0,400.0 495.0,408.3 480.0,390.0C465.0,371.7 468.3,378.3 455.0,365.0C441.7,351.7 458.3,352.3 440.0,350.0C421.7,347.7 430.0,352.0 400.0,358.0C370.0,364.0 383.3,362.3 350.0,368.0C316.7,373.7 328.3,373.7 300.0,375.0C271.7,376.3 280.0,363.7 265.0,372.0C250.0,380.3 260.0,377.3 255.0,400.0C250.0,422.7 253.3,415.0 250.0,440.0C246.7,465.0 250.0,453.3 245.0,475.0C240.0,496.7 241.7,491.7 235.0,505.0C228.3,518.3 238.3,510.7 225.0,515.0C211.7,519.3 213.3,521.3 195.0,518.0C176.7,514.7 180.0,514.3 170.0,505.0C160.0,495.7 158.3,496.7 165.0,490.0C171.7,483.3 176.7,493.3 190.0,485.0C203.3,476.7 200.0,483.3 205.0,465.0C210.0,446.7 208.3,455.0 205.0,430.0C201.7,405.0 205.0,416.7 195.0,390.0C185.0,363.3 188.3,376.7 175.0,350.0C161.7,323.3 166.7,336.7 155.0,310.0C143.3,283.3 148.3,296.7 140.0,270.0C131.7,243.3 135.0,256.7 130.0,230.0C125.0,203.3 131.0,211.7 125.0,190.0C119.0,168.3 123.7,176.7 112.0,165.0C100.3,153.3 105.7,160.7 90.0,155.0C74.3,149.3 79.0,156.3 65.0,148.0C51.0,139.7 51.3,141.0 48.0,130.0C44.7,119.0 44.3,123.3 55.0,115.0C65.7,106.7 65.0,115.0 80.0,105.0C95.0,95.0 86.7,96.7 100.0,85.0C113.3,73.3 109.3,80.0 120.0,70.0C130.7,60.0 125.3,64.3 132.0,55.0C138.7,45.7 140.0,42.0 140.0,42.0Z"/>
<path d="M560,372 Q566,398 577,420" fill="none" stroke="#d5e2f1" stroke-width="8" stroke-linecap="round"/><path d="M539,442 Q533,470 526,498" fill="none" stroke="#d5e2f1" stroke-width="8" stroke-linecap="round"/>
</g>
<circle cx="842.8" cy="271.1" r="8.8" fill="none" stroke="#90aedb" stroke-width="0.99" opacity="0.7"/><circle cx="842.8" cy="271.1" r="5.8" fill="none" stroke="#86abd9" stroke-width="0.85" opacity="0.55"/><circle cx="842.8" cy="271.1" r="4.1" fill="url(#pk)"/>

<g transform="translate(820,305) scale(0.16071)">
<g fill="#172d57">
<path d="M250.0,193.0C250.0,193.0 250.3,201.0 262.0,215.0C273.7,229.0 271.7,216.7 285.0,235.0C298.3,253.3 295.3,245.0 302.0,270.0C308.7,295.0 307.3,285.0 305.0,310.0C302.7,335.0 306.7,325.7 295.0,345.0C283.3,364.3 285.0,359.0 270.0,368.0C255.0,377.0 264.0,372.0 250.0,372.0C236.0,372.0 243.0,377.0 228.0,368.0C213.0,359.0 216.0,364.3 205.0,345.0C194.0,325.7 197.3,335.0 195.0,310.0C192.7,285.0 191.3,295.0 198.0,270.0C204.7,245.0 201.7,253.3 215.0,235.0C228.3,216.7 226.3,229.0 238.0,215.0C249.7,201.0 250.0,193.0 250.0,193.0Z"/>
<path d="M224.0,228.0C217.7,205.3 220.3,209.3 205.0,160.0C189.7,110.7 187.0,106.7 178.0,80.0" fill="none" stroke="#1f365e" stroke-width="9" stroke-linecap="round" stroke-linejoin="round"/>
<path d="M278.0,228.0C284.7,205.3 282.3,210.0 298.0,160.0C313.7,110.0 316.0,105.3 325.0,78.0" fill="none" stroke="#1f365e" stroke-width="9" stroke-linecap="round" stroke-linejoin="round"/>
<path d="M208.0,248.0C195.3,240.3 192.0,241.0 170.0,225.0C148.0,209.0 151.3,208.3 142.0,200.0" fill="none" stroke="#1f365e" stroke-width="9" stroke-linecap="round" stroke-linejoin="round"/>
<path d="M295.0,248.0C308.3,239.3 313.3,238.0 335.0,222.0C356.7,206.0 351.7,207.3 360.0,200.0" fill="none" stroke="#1f365e" stroke-width="9" stroke-linecap="round" stroke-linejoin="round"/>
<path d="M200.0,305.0C186.7,313.3 186.7,311.0 160.0,330.0C133.3,349.0 133.3,351.3 120.0,362.0" fill="none" stroke="#1f365e" stroke-width="9" stroke-linecap="round" stroke-linejoin="round"/>
<path d="M302.0,305.0C316.3,315.0 318.3,315.0 345.0,335.0C371.7,355.0 369.7,355.0 382.0,365.0" fill="none" stroke="#1f365e" stroke-width="9" stroke-linecap="round" stroke-linejoin="round"/>
<path d="M215.0,345.0C205.0,355.0 198.3,350.0 185.0,375.0C171.7,400.0 178.3,405.0 175.0,420.0" fill="none" stroke="#1f365e" stroke-width="9" stroke-linecap="round" stroke-linejoin="round"/>
<path d="M288.0,345.0C298.0,355.0 304.7,349.3 318.0,375.0C331.3,400.7 324.7,406.3 328.0,422.0" fill="none" stroke="#1f365e" stroke-width="9" stroke-linecap="round" stroke-linejoin="round"/>
</g>
</g>
<g transform="translate(820,305) scale(0.16071)"><circle cx="250" cy="295" r="30" fill="none" stroke="#7a5fb5" stroke-width="5" opacity="0.6"/><circle cx="250" cy="295" r="10" fill="#c860c8"/></g>
<g transform="translate(834,365) scale(0.14286)">
<g fill="#172d57">
<path d="M235.0,285.0C215.0,290.0 216.7,287.7 175.0,300.0C133.3,312.3 131.7,314.7 110.0,322.0" fill="none" stroke="#4f5b78" stroke-width="7" stroke-linecap="round" stroke-linejoin="round"/>
<path d="M245.0,292.0C239.3,307.3 266.3,309.3 228.0,338.0C189.7,366.7 162.7,364.7 130.0,378.0" fill="none" stroke="#4f5b78" stroke-width="7" stroke-linecap="round" stroke-linejoin="round"/>
<path d="M252.0,298.0C247.3,315.3 277.0,310.7 238.0,350.0C199.0,389.3 169.3,394.0 135.0,416.0" fill="none" stroke="#4f5b78" stroke-width="7" stroke-linecap="round" stroke-linejoin="round"/>
<path d="M362,288 L328,340 L345,365 L430,412" fill="none" stroke="#4f5b78" stroke-width="7" stroke-linecap="round" stroke-linejoin="round"/>
<path d="M395,242 L440,244 L548,302 L672,300" fill="none" stroke="#4f5b78" stroke-width="7" stroke-linecap="round" stroke-linejoin="round"/>
<path d="M228.0,195.0C230.7,207.3 233.3,219.7 236.0,232.0" fill="none" stroke="#2a4068" stroke-width="6" stroke-linecap="round" stroke-linejoin="round"/>
<path d="M218.0,262.0C217.0,249.7 217.0,252.3 225.0,245.0C233.0,237.7 231.0,238.3 242.0,240.0C253.0,241.7 252.7,239.3 258.0,250.0C263.3,260.7 262.3,260.3 258.0,272.0C253.7,283.7 255.0,281.7 245.0,285.0C235.0,288.3 237.0,289.7 228.0,282.0C219.0,274.3 219.0,274.3 218.0,262.0Z"/>
<path d="M255.0,215.0C267.3,201.7 263.3,203.3 285.0,200.0C306.7,196.7 300.0,196.7 320.0,205.0C340.0,213.3 335.0,208.3 345.0,225.0C355.0,241.7 353.3,236.7 350.0,255.0C346.7,273.3 350.0,266.7 335.0,280.0C320.0,293.3 325.0,291.7 305.0,295.0C285.0,298.3 291.7,298.3 275.0,290.0C258.3,281.7 264.0,286.7 255.0,270.0C246.0,253.3 248.0,258.3 248.0,240.0C248.0,221.7 242.7,228.3 255.0,215.0Z"/>
<path d="M335.0,235.0C346.7,229.3 345.0,236.3 370.0,248.0C395.0,259.7 383.3,254.3 410.0,270.0C436.7,285.7 430.0,280.0 450.0,295.0C470.0,310.0 466.0,303.3 470.0,315.0C474.0,326.7 472.0,326.7 462.0,330.0C452.0,333.3 460.7,335.0 440.0,325.0C419.3,315.0 426.7,315.0 400.0,300.0C373.3,285.0 381.7,291.7 360.0,280.0C338.3,268.3 343.3,280.0 335.0,265.0C326.7,250.0 323.3,240.7 335.0,235.0Z"/>
<path d="M300.0,195.0C285.0,175.7 294.0,170.0 297.0,140.0C300.0,110.0 298.7,120.0 309.0,105.0C319.3,90.0 315.7,93.3 328.0,95.0C340.3,96.7 338.3,91.7 346.0,110.0C353.7,128.3 352.3,120.7 351.0,150.0C349.7,179.3 359.0,183.0 342.0,198.0C325.0,213.0 315.0,214.3 300.0,195.0Z"/>
<path d="M335.0,198.0C343.3,176.7 345.0,176.0 370.0,152.0C395.0,128.0 383.3,137.7 410.0,126.0C436.7,114.3 431.3,114.0 450.0,117.0C468.7,120.0 464.0,119.0 466.0,135.0C468.0,151.0 471.3,145.0 456.0,165.0C440.7,185.0 445.3,179.0 420.0,195.0C394.7,211.0 405.0,206.0 380.0,213.0C355.0,220.0 360.0,221.0 345.0,216.0C330.0,211.0 326.7,219.3 335.0,198.0Z"/>
</g>
</g>
<g transform="translate(834,365) scale(0.142857)"><circle cx="302" cy="238" r="10" fill="#b050b8"/></g>
</g>
<g id="labels" filter="url(#soft)">
<text x="453.20" y="135.2" textLength="101.6" lengthAdjust="spacingAndGlyphs">Coronaviruses</text>
<text x="454.15" y="153.5" textLength="99.7" lengthAdjust="spacingAndGlyphs">(SARS, MERS,</text>
<text x="455.25" y="171.7" textLength="97.5" lengthAdjust="spacingAndGlyphs">SARS-CoV-2),</text>
<text x="464.00" y="189.9" textLength="80" lengthAdjust="spacingAndGlyphs">Nipah virus</text>
<text x="572.20" y="144.1" textLength="39" lengthAdjust="spacingAndGlyphs">Ebola</text>
<text x="301.95" y="191.4" textLength="28.5" lengthAdjust="spacingAndGlyphs">BSE</text>
<text x="211.38" y="257.6" textLength="43.25" lengthAdjust="spacingAndGlyphs">Swine</text>
<text x="224.25" y="275.6" textLength="17.5" lengthAdjust="spacingAndGlyphs">flu</text>
<text x="131.28" y="371.4" textLength="39.25" lengthAdjust="spacingAndGlyphs">Avian</text>
<text x="118.03" y="389.4" textLength="65.75" lengthAdjust="spacingAndGlyphs">influenza</text>
<text x="666.75" y="185.2" textLength="26.5" lengthAdjust="spacingAndGlyphs">HIV</text>
<text x="702.52" y="269.6" textLength="91.75" lengthAdjust="spacingAndGlyphs">Lyssaviruses</text>
<text x="720.52" y="287.3" textLength="55.75" lengthAdjust="spacingAndGlyphs">(rabies)</text>
<text x="770.95" y="359" textLength="37.5" lengthAdjust="spacingAndGlyphs">Lyme</text>
<text x="762.70" y="377.3" textLength="54" lengthAdjust="spacingAndGlyphs">disease</text>
<text x="774" y="424" textLength="56.8" lengthAdjust="spacingAndGlyphs">Malaria,</text>
<text x="774" y="442" textLength="70.1" lengthAdjust="spacingAndGlyphs">Zika virus</text>
</g>
</svg>
</body></html>
